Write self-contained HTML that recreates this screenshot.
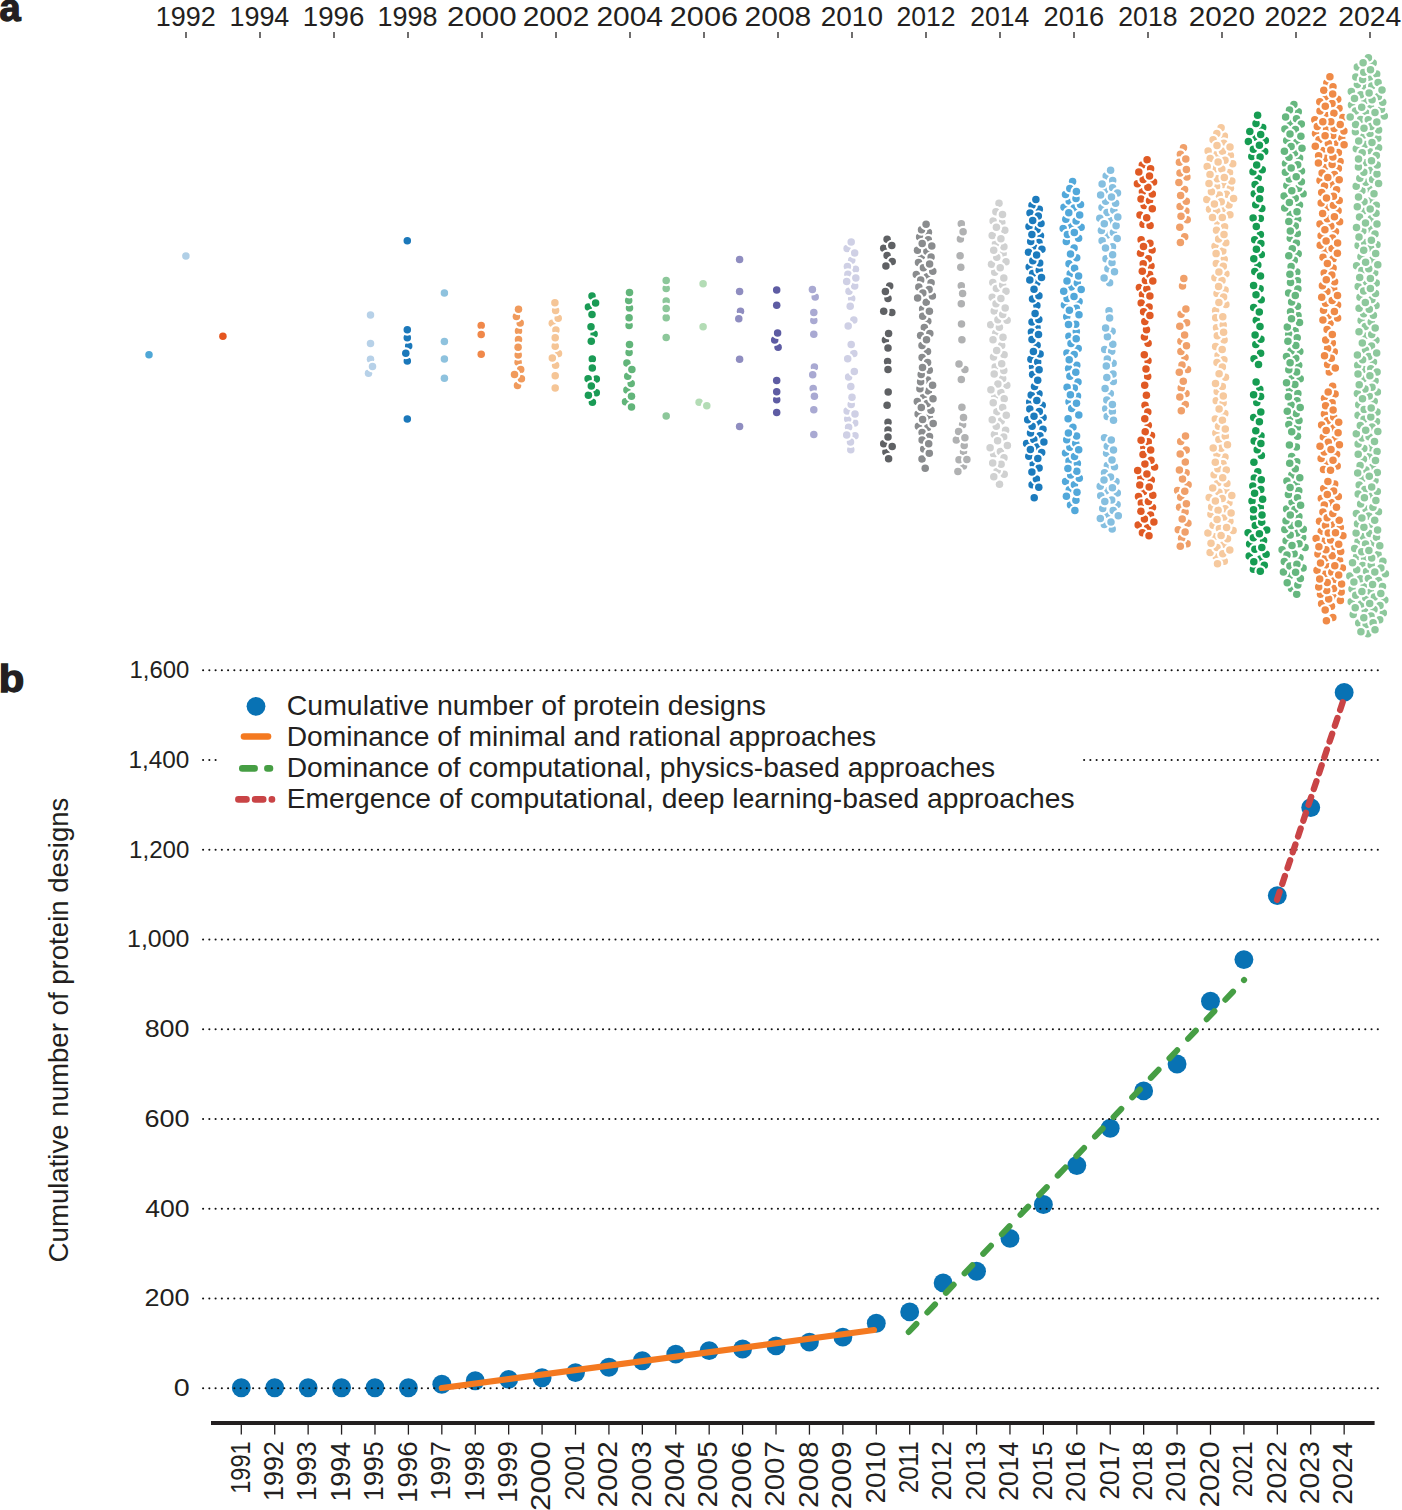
<!DOCTYPE html><html><head><meta charset="utf-8"><style>html,body{margin:0;padding:0;background:#fff}body{width:1402px;height:1510px;overflow:hidden}svg{display:block}text{font-family:"Liberation Sans",sans-serif;fill:#231f20}</style></head><body><svg width="1402" height="1510" viewBox="0 0 1402 1510"><text x="-0.5" y="21" font-size="38" font-weight="bold" style="stroke:#231f20;stroke-width:1.3">a</text><text transform="translate(155.73,26.20) scale(0.9620,1)" font-size="28.00">1992</text><line x1="186.0" y1="32" x2="186.0" y2="38" stroke="#231f20" stroke-width="1.3"/><text transform="translate(229.43,26.20) scale(0.9619,1)" font-size="28.00">1994</text><line x1="260.0" y1="32" x2="260.0" y2="38" stroke="#231f20" stroke-width="1.3"/><text transform="translate(302.83,26.20) scale(0.9874,1)" font-size="28.00">1996</text><line x1="334.0" y1="32" x2="334.0" y2="38" stroke="#231f20" stroke-width="1.3"/><text transform="translate(377.58,26.20) scale(0.9637,1)" font-size="28.00">1998</text><line x1="408.0" y1="32" x2="408.0" y2="38" stroke="#231f20" stroke-width="1.3"/><text transform="translate(446.98,26.20) scale(1.1191,1)" font-size="28.00">2000</text><line x1="482.0" y1="32" x2="482.0" y2="38" stroke="#231f20" stroke-width="1.3"/><text transform="translate(522.70,26.20) scale(1.0702,1)" font-size="28.00">2002</text><line x1="556.0" y1="32" x2="556.0" y2="38" stroke="#231f20" stroke-width="1.3"/><text transform="translate(596.40,26.20) scale(1.0689,1)" font-size="28.00">2004</text><line x1="630.0" y1="32" x2="630.0" y2="38" stroke="#231f20" stroke-width="1.3"/><text transform="translate(669.82,26.20) scale(1.0949,1)" font-size="28.00">2006</text><line x1="704.0" y1="32" x2="704.0" y2="38" stroke="#231f20" stroke-width="1.3"/><text transform="translate(744.55,26.20) scale(1.0714,1)" font-size="28.00">2008</text><line x1="778.0" y1="32" x2="778.0" y2="38" stroke="#231f20" stroke-width="1.3"/><text transform="translate(820.75,26.20) scale(0.9987,1)" font-size="28.00">2010</text><line x1="852.0" y1="32" x2="852.0" y2="38" stroke="#231f20" stroke-width="1.3"/><text transform="translate(896.47,26.20) scale(0.9490,1)" font-size="28.00">2012</text><line x1="926.0" y1="32" x2="926.0" y2="38" stroke="#231f20" stroke-width="1.3"/><text transform="translate(970.17,26.20) scale(0.9491,1)" font-size="28.00">2014</text><line x1="1000.0" y1="32" x2="1000.0" y2="38" stroke="#231f20" stroke-width="1.3"/><text transform="translate(1043.59,26.20) scale(0.9742,1)" font-size="28.00">2016</text><line x1="1074.0" y1="32" x2="1074.0" y2="38" stroke="#231f20" stroke-width="1.3"/><text transform="translate(1118.32,26.20) scale(0.9507,1)" font-size="28.00">2018</text><line x1="1148.0" y1="32" x2="1148.0" y2="38" stroke="#231f20" stroke-width="1.3"/><text transform="translate(1188.71,26.20) scale(1.0639,1)" font-size="28.00">2020</text><line x1="1222.0" y1="32" x2="1222.0" y2="38" stroke="#231f20" stroke-width="1.3"/><text transform="translate(1264.43,26.20) scale(1.0146,1)" font-size="28.00">2022</text><line x1="1296.0" y1="32" x2="1296.0" y2="38" stroke="#231f20" stroke-width="1.3"/><text transform="translate(1338.13,26.20) scale(1.0140,1)" font-size="28.00">2024</text><line x1="1370.0" y1="32" x2="1370.0" y2="38" stroke="#231f20" stroke-width="1.3"/><g stroke="#fff" stroke-width="4.4" paint-order="stroke"><g fill="#4fa7d6"><circle cx="149.0" cy="354.7" r="3.75"/></g><g fill="#b0cfe6"><circle cx="185.9" cy="255.9" r="3.75"/></g><g fill="#e5561f"><circle cx="222.9" cy="336.3" r="3.75"/></g><g fill="#b7d1e8"><circle cx="368.5" cy="373.2" r="3.75"/><circle cx="370.5" cy="359.2" r="3.75"/><circle cx="372.5" cy="366.6" r="3.75"/><circle cx="370.5" cy="315.0" r="3.75"/><circle cx="370.5" cy="343.5" r="3.75"/></g><g fill="#1b78ba"><circle cx="407.3" cy="419.0" r="3.75"/><circle cx="407.3" cy="240.8" r="3.75"/><circle cx="408.7" cy="346.0" r="3.75"/><circle cx="407.3" cy="337.8" r="3.75"/><circle cx="407.3" cy="361.0" r="3.75"/><circle cx="407.3" cy="329.8" r="3.75"/><circle cx="405.8" cy="353.2" r="3.75"/></g><g fill="#8ec2de"><circle cx="444.4" cy="359.0" r="3.75"/><circle cx="444.4" cy="378.3" r="3.75"/><circle cx="444.4" cy="341.5" r="3.75"/><circle cx="444.4" cy="293.0" r="3.75"/></g><g fill="#f0884a"><circle cx="481.2" cy="354.3" r="3.75"/><circle cx="481.2" cy="325.5" r="3.75"/><circle cx="481.2" cy="334.4" r="3.75"/></g><g fill="#f09a5c"><circle cx="518.1" cy="362.3" r="3.75"/><circle cx="518.5" cy="330.9" r="3.75"/><circle cx="520.2" cy="323.1" r="3.75"/><circle cx="520.7" cy="369.6" r="3.75"/><circle cx="518.2" cy="354.9" r="3.75"/><circle cx="518.5" cy="339.5" r="3.75"/><circle cx="517.5" cy="385.5" r="3.75"/><circle cx="516.4" cy="316.6" r="3.75"/><circle cx="521.4" cy="378.8" r="3.75"/><circle cx="518.1" cy="347.3" r="3.75"/><circle cx="518.5" cy="309.2" r="3.75"/><circle cx="514.5" cy="374.4" r="3.75"/></g><g fill="#f5c596"><circle cx="555.6" cy="365.3" r="3.75"/><circle cx="558.5" cy="353.4" r="3.75"/><circle cx="552.3" cy="323.2" r="3.75"/><circle cx="555.2" cy="375.8" r="3.75"/><circle cx="555.9" cy="329.9" r="3.75"/><circle cx="555.2" cy="346.3" r="3.75"/><circle cx="558.2" cy="318.2" r="3.75"/><circle cx="555.6" cy="310.6" r="3.75"/><circle cx="555.2" cy="337.7" r="3.75"/><circle cx="552.3" cy="358.1" r="3.75"/><circle cx="554.9" cy="302.8" r="3.75"/><circle cx="555.2" cy="388.1" r="3.75"/></g><g fill="#1a9b55"><circle cx="596.3" cy="392.7" r="3.75"/><circle cx="588.4" cy="307.1" r="3.75"/><circle cx="596.3" cy="379.1" r="3.75"/><circle cx="592.4" cy="402.2" r="3.75"/><circle cx="592.0" cy="296.1" r="3.75"/><circle cx="594.1" cy="333.9" r="3.75"/><circle cx="592.3" cy="358.9" r="3.75"/><circle cx="591.3" cy="341.3" r="3.75"/><circle cx="588.1" cy="378.8" r="3.75"/><circle cx="591.0" cy="326.8" r="3.75"/><circle cx="592.0" cy="314.6" r="3.75"/><circle cx="588.4" cy="395.2" r="3.75"/><circle cx="592.3" cy="368.0" r="3.75"/><circle cx="591.3" cy="386.0" r="3.75"/><circle cx="595.6" cy="303.1" r="3.75"/></g><g fill="#62b57a"><circle cx="629.1" cy="352.4" r="3.75"/><circle cx="626.9" cy="363.0" r="3.75"/><circle cx="629.1" cy="325.6" r="3.75"/><circle cx="625.5" cy="401.7" r="3.75"/><circle cx="626.9" cy="390.1" r="3.75"/><circle cx="631.5" cy="406.9" r="3.75"/><circle cx="631.2" cy="383.4" r="3.75"/><circle cx="629.5" cy="308.1" r="3.75"/><circle cx="628.7" cy="300.4" r="3.75"/><circle cx="629.5" cy="344.5" r="3.75"/><circle cx="629.1" cy="317.8" r="3.75"/><circle cx="627.7" cy="376.3" r="3.75"/><circle cx="631.5" cy="396.2" r="3.75"/><circle cx="629.5" cy="292.5" r="3.75"/><circle cx="631.9" cy="369.6" r="3.75"/></g><g fill="#8cc79a"><circle cx="666.2" cy="300.9" r="3.75"/><circle cx="666.2" cy="288.5" r="3.75"/><circle cx="666.2" cy="317.8" r="3.75"/><circle cx="666.2" cy="415.9" r="3.75"/><circle cx="666.2" cy="337.5" r="3.75"/><circle cx="666.2" cy="280.4" r="3.75"/><circle cx="666.2" cy="308.5" r="3.75"/></g><g fill="#b3dcb5"><circle cx="703.1" cy="326.7" r="3.75"/><circle cx="699.1" cy="402.3" r="3.75"/><circle cx="703.1" cy="283.7" r="3.75"/><circle cx="706.8" cy="405.8" r="3.75"/></g><g fill="#8f8dc0"><circle cx="739.6" cy="359.3" r="3.75"/><circle cx="739.6" cy="426.6" r="3.75"/><circle cx="740.5" cy="311.3" r="3.75"/><circle cx="738.8" cy="318.7" r="3.75"/><circle cx="739.6" cy="259.4" r="3.75"/><circle cx="739.6" cy="291.6" r="3.75"/></g><g fill="#5e5ca3"><circle cx="776.7" cy="412.6" r="3.75"/><circle cx="776.7" cy="380.4" r="3.75"/><circle cx="776.7" cy="305.3" r="3.75"/><circle cx="778.1" cy="347.3" r="3.75"/><circle cx="774.7" cy="340.1" r="3.75"/><circle cx="776.7" cy="399.8" r="3.75"/><circle cx="776.7" cy="289.9" r="3.75"/><circle cx="776.7" cy="391.8" r="3.75"/><circle cx="777.6" cy="333.0" r="3.75"/></g><g fill="#a9a9d2"><circle cx="813.8" cy="434.6" r="3.75"/><circle cx="813.2" cy="388.6" r="3.75"/><circle cx="813.8" cy="320.5" r="3.75"/><circle cx="815.2" cy="297.1" r="3.75"/><circle cx="814.4" cy="396.3" r="3.75"/><circle cx="814.4" cy="367.0" r="3.75"/><circle cx="812.4" cy="289.6" r="3.75"/><circle cx="812.7" cy="374.7" r="3.75"/><circle cx="813.8" cy="312.5" r="3.75"/><circle cx="813.8" cy="409.8" r="3.75"/><circle cx="813.8" cy="334.2" r="3.75"/></g><g fill="#cfd0e5"><circle cx="848.6" cy="377.0" r="3.75"/><circle cx="851.7" cy="298.6" r="3.75"/><circle cx="854.7" cy="423.1" r="3.75"/><circle cx="847.1" cy="248.6" r="3.75"/><circle cx="847.7" cy="419.0" r="3.75"/><circle cx="855.4" cy="269.3" r="3.75"/><circle cx="847.1" cy="411.0" r="3.75"/><circle cx="851.2" cy="241.9" r="3.75"/><circle cx="853.8" cy="319.9" r="3.75"/><circle cx="851.7" cy="260.2" r="3.75"/><circle cx="847.4" cy="266.6" r="3.75"/><circle cx="854.3" cy="371.4" r="3.75"/><circle cx="849.0" cy="291.3" r="3.75"/><circle cx="854.7" cy="286.1" r="3.75"/><circle cx="854.7" cy="252.9" r="3.75"/><circle cx="855.0" cy="435.7" r="3.75"/><circle cx="850.2" cy="306.2" r="3.75"/><circle cx="851.2" cy="404.5" r="3.75"/><circle cx="848.6" cy="427.3" r="3.75"/><circle cx="853.8" cy="353.4" r="3.75"/><circle cx="852.0" cy="397.2" r="3.75"/><circle cx="847.9" cy="274.2" r="3.75"/><circle cx="850.8" cy="449.7" r="3.75"/><circle cx="855.0" cy="413.9" r="3.75"/><circle cx="850.5" cy="442.1" r="3.75"/><circle cx="847.7" cy="358.8" r="3.75"/><circle cx="850.8" cy="386.6" r="3.75"/><circle cx="855.8" cy="278.0" r="3.75"/><circle cx="848.2" cy="326.0" r="3.75"/><circle cx="851.2" cy="344.6" r="3.75"/><circle cx="846.7" cy="435.0" r="3.75"/><circle cx="846.7" cy="281.5" r="3.75"/></g><g fill="#5f6164"><circle cx="888.0" cy="298.6" r="3.75"/><circle cx="885.9" cy="451.9" r="3.75"/><circle cx="883.7" cy="443.8" r="3.75"/><circle cx="888.0" cy="422.2" r="3.75"/><circle cx="889.7" cy="285.9" r="3.75"/><circle cx="887.6" cy="361.6" r="3.75"/><circle cx="885.4" cy="339.9" r="3.75"/><circle cx="888.0" cy="430.0" r="3.75"/><circle cx="883.7" cy="248.3" r="3.75"/><circle cx="891.8" cy="312.4" r="3.75"/><circle cx="888.0" cy="369.6" r="3.75"/><circle cx="888.6" cy="458.7" r="3.75"/><circle cx="888.0" cy="348.0" r="3.75"/><circle cx="887.1" cy="255.5" r="3.75"/><circle cx="892.2" cy="261.5" r="3.75"/><circle cx="887.1" cy="239.2" r="3.75"/><circle cx="888.6" cy="333.6" r="3.75"/><circle cx="891.8" cy="245.6" r="3.75"/><circle cx="892.2" cy="446.6" r="3.75"/><circle cx="885.9" cy="266.1" r="3.75"/><circle cx="883.7" cy="311.3" r="3.75"/><circle cx="885.4" cy="291.6" r="3.75"/><circle cx="888.0" cy="437.0" r="3.75"/><circle cx="887.1" cy="405.2" r="3.75"/><circle cx="888.2" cy="391.9" r="3.75"/></g><g fill="#8a8c8e"><circle cx="923.7" cy="396.6" r="3.75"/><circle cx="929.4" cy="417.2" r="3.75"/><circle cx="921.5" cy="256.1" r="3.75"/><circle cx="927.1" cy="276.7" r="3.75"/><circle cx="927.5" cy="427.8" r="3.75"/><circle cx="927.5" cy="351.5" r="3.75"/><circle cx="922.0" cy="459.1" r="3.75"/><circle cx="928.4" cy="391.1" r="3.75"/><circle cx="922.6" cy="308.9" r="3.75"/><circle cx="928.4" cy="232.3" r="3.75"/><circle cx="917.5" cy="250.2" r="3.75"/><circle cx="926.2" cy="302.2" r="3.75"/><circle cx="927.8" cy="321.2" r="3.75"/><circle cx="932.8" cy="271.3" r="3.75"/><circle cx="918.4" cy="426.3" r="3.75"/><circle cx="932.4" cy="295.9" r="3.75"/><circle cx="919.9" cy="388.8" r="3.75"/><circle cx="931.0" cy="410.2" r="3.75"/><circle cx="926.9" cy="251.3" r="3.75"/><circle cx="929.3" cy="370.2" r="3.75"/><circle cx="919.6" cy="236.9" r="3.75"/><circle cx="916.3" cy="274.5" r="3.75"/><circle cx="924.3" cy="327.5" r="3.75"/><circle cx="928.3" cy="239.8" r="3.75"/><circle cx="922.1" cy="432.5" r="3.75"/><circle cx="918.1" cy="413.9" r="3.75"/><circle cx="923.7" cy="448.9" r="3.75"/><circle cx="918.5" cy="262.6" r="3.75"/><circle cx="922.2" cy="243.6" r="3.75"/><circle cx="922.0" cy="345.4" r="3.75"/><circle cx="917.3" cy="401.5" r="3.75"/><circle cx="921.5" cy="229.8" r="3.75"/><circle cx="922.7" cy="316.2" r="3.75"/><circle cx="927.2" cy="403.5" r="3.75"/><circle cx="929.5" cy="436.6" r="3.75"/><circle cx="933.0" cy="398.8" r="3.75"/><circle cx="927.6" cy="380.0" r="3.75"/><circle cx="929.3" cy="453.3" r="3.75"/><circle cx="922.1" cy="357.6" r="3.75"/><circle cx="933.2" cy="423.4" r="3.75"/><circle cx="932.6" cy="385.3" r="3.75"/><circle cx="922.1" cy="440.1" r="3.75"/><circle cx="927.6" cy="362.4" r="3.75"/><circle cx="920.6" cy="381.7" r="3.75"/><circle cx="921.3" cy="407.5" r="3.75"/><circle cx="931.1" cy="257.1" r="3.75"/><circle cx="931.1" cy="282.7" r="3.75"/><circle cx="920.6" cy="335.6" r="3.75"/><circle cx="923.4" cy="267.8" r="3.75"/><circle cx="929.4" cy="311.3" r="3.75"/><circle cx="920.7" cy="280.1" r="3.75"/><circle cx="931.8" cy="246.0" r="3.75"/><circle cx="929.8" cy="333.4" r="3.75"/><circle cx="929.1" cy="289.5" r="3.75"/><circle cx="918.8" cy="287.0" r="3.75"/><circle cx="921.2" cy="374.5" r="3.75"/><circle cx="922.6" cy="419.5" r="3.75"/><circle cx="926.5" cy="339.8" r="3.75"/><circle cx="926.1" cy="224.3" r="3.75"/><circle cx="922.5" cy="367.4" r="3.75"/><circle cx="922.8" cy="293.1" r="3.75"/><circle cx="925.2" cy="468.2" r="3.75"/><circle cx="917.6" cy="298.0" r="3.75"/><circle cx="928.7" cy="443.7" r="3.75"/><circle cx="929.6" cy="264.1" r="3.75"/></g><g fill="#b0b1b2"><circle cx="963.5" cy="451.7" r="3.75"/><circle cx="964.2" cy="445.6" r="3.75"/><circle cx="960.4" cy="239.1" r="3.75"/><circle cx="962.6" cy="424.7" r="3.75"/><circle cx="960.8" cy="267.3" r="3.75"/><circle cx="961.3" cy="303.7" r="3.75"/><circle cx="961.9" cy="339.8" r="3.75"/><circle cx="960.1" cy="255.8" r="3.75"/><circle cx="964.9" cy="369.5" r="3.75"/><circle cx="961.3" cy="285.7" r="3.75"/><circle cx="962.6" cy="293.6" r="3.75"/><circle cx="963.5" cy="465.9" r="3.75"/><circle cx="961.3" cy="223.8" r="3.75"/><circle cx="959.0" cy="459.8" r="3.75"/><circle cx="956.3" cy="440.0" r="3.75"/><circle cx="961.5" cy="324.0" r="3.75"/><circle cx="957.9" cy="471.5" r="3.75"/><circle cx="963.5" cy="417.5" r="3.75"/><circle cx="958.6" cy="431.4" r="3.75"/><circle cx="964.9" cy="437.7" r="3.75"/><circle cx="966.9" cy="459.6" r="3.75"/><circle cx="959.0" cy="364.1" r="3.75"/><circle cx="961.3" cy="379.6" r="3.75"/><circle cx="963.1" cy="231.7" r="3.75"/><circle cx="961.9" cy="407.3" r="3.75"/></g><g fill="#d0d1d1"><circle cx="990.7" cy="324.7" r="3.75"/><circle cx="992.8" cy="282.4" r="3.75"/><circle cx="996.4" cy="288.5" r="3.75"/><circle cx="994.4" cy="434.4" r="3.75"/><circle cx="1001.2" cy="421.0" r="3.75"/><circle cx="994.7" cy="395.9" r="3.75"/><circle cx="996.3" cy="426.2" r="3.75"/><circle cx="1001.7" cy="345.5" r="3.75"/><circle cx="994.2" cy="311.1" r="3.75"/><circle cx="1006.8" cy="385.3" r="3.75"/><circle cx="1003.1" cy="253.8" r="3.75"/><circle cx="1000.9" cy="392.4" r="3.75"/><circle cx="996.9" cy="411.7" r="3.75"/><circle cx="995.7" cy="333.3" r="3.75"/><circle cx="993.6" cy="453.9" r="3.75"/><circle cx="1004.1" cy="354.7" r="3.75"/><circle cx="1001.8" cy="222.6" r="3.75"/><circle cx="992.2" cy="297.3" r="3.75"/><circle cx="1003.9" cy="246.8" r="3.75"/><circle cx="995.5" cy="243.4" r="3.75"/><circle cx="993.5" cy="356.9" r="3.75"/><circle cx="992.2" cy="235.5" r="3.75"/><circle cx="1003.0" cy="337.3" r="3.75"/><circle cx="999.4" cy="327.2" r="3.75"/><circle cx="997.9" cy="319.8" r="3.75"/><circle cx="1005.6" cy="430.2" r="3.75"/><circle cx="1004.8" cy="230.2" r="3.75"/><circle cx="999.0" cy="203.2" r="3.75"/><circle cx="1002.7" cy="378.6" r="3.75"/><circle cx="993.1" cy="221.0" r="3.75"/><circle cx="1002.6" cy="285.0" r="3.75"/><circle cx="993.0" cy="339.8" r="3.75"/><circle cx="994.7" cy="272.2" r="3.75"/><circle cx="1004.2" cy="474.2" r="3.75"/><circle cx="1003.7" cy="437.1" r="3.75"/><circle cx="1000.4" cy="451.6" r="3.75"/><circle cx="1003.8" cy="278.0" r="3.75"/><circle cx="1004.0" cy="457.8" r="3.75"/><circle cx="1004.2" cy="398.8" r="3.75"/><circle cx="1007.4" cy="445.5" r="3.75"/><circle cx="996.0" cy="303.7" r="3.75"/><circle cx="997.2" cy="470.5" r="3.75"/><circle cx="1001.1" cy="464.2" r="3.75"/><circle cx="997.9" cy="383.9" r="3.75"/><circle cx="1002.7" cy="407.6" r="3.75"/><circle cx="990.9" cy="389.8" r="3.75"/><circle cx="1006.0" cy="261.7" r="3.75"/><circle cx="999.5" cy="484.2" r="3.75"/><circle cx="991.5" cy="264.3" r="3.75"/><circle cx="997.6" cy="440.8" r="3.75"/><circle cx="996.4" cy="227.3" r="3.75"/><circle cx="995.9" cy="211.7" r="3.75"/><circle cx="1000.2" cy="267.7" r="3.75"/><circle cx="996.8" cy="257.3" r="3.75"/><circle cx="1007.1" cy="320.2" r="3.75"/><circle cx="993.7" cy="250.2" r="3.75"/><circle cx="1002.7" cy="314.6" r="3.75"/><circle cx="996.7" cy="350.6" r="3.75"/><circle cx="995.2" cy="366.9" r="3.75"/><circle cx="994.2" cy="373.9" r="3.75"/><circle cx="992.7" cy="463.0" r="3.75"/><circle cx="1000.9" cy="238.7" r="3.75"/><circle cx="1006.0" cy="291.2" r="3.75"/><circle cx="993.8" cy="476.8" r="3.75"/><circle cx="1002.5" cy="214.5" r="3.75"/><circle cx="990.1" cy="447.8" r="3.75"/><circle cx="992.2" cy="419.8" r="3.75"/><circle cx="1006.3" cy="415.3" r="3.75"/><circle cx="1005.2" cy="307.9" r="3.75"/><circle cx="1003.8" cy="370.6" r="3.75"/><circle cx="1000.9" cy="298.5" r="3.75"/><circle cx="993.2" cy="402.8" r="3.75"/><circle cx="1001.7" cy="363.7" r="3.75"/></g><g fill="#1c7bbd"><circle cx="1040.5" cy="235.7" r="3.75"/><circle cx="1043.1" cy="417.6" r="3.75"/><circle cx="1037.1" cy="345.3" r="3.75"/><circle cx="1042.2" cy="405.2" r="3.75"/><circle cx="1038.5" cy="423.1" r="3.75"/><circle cx="1037.0" cy="327.6" r="3.75"/><circle cx="1043.0" cy="429.3" r="3.75"/><circle cx="1039.9" cy="435.7" r="3.75"/><circle cx="1039.3" cy="209.2" r="3.75"/><circle cx="1037.0" cy="229.6" r="3.75"/><circle cx="1039.0" cy="242.6" r="3.75"/><circle cx="1032.5" cy="366.8" r="3.75"/><circle cx="1026.6" cy="443.5" r="3.75"/><circle cx="1036.8" cy="282.7" r="3.75"/><circle cx="1033.8" cy="439.4" r="3.75"/><circle cx="1032.0" cy="205.3" r="3.75"/><circle cx="1029.2" cy="267.0" r="3.75"/><circle cx="1034.1" cy="247.8" r="3.75"/><circle cx="1032.1" cy="484.7" r="3.75"/><circle cx="1032.0" cy="321.9" r="3.75"/><circle cx="1039.0" cy="393.8" r="3.75"/><circle cx="1030.9" cy="359.3" r="3.75"/><circle cx="1029.7" cy="402.0" r="3.75"/><circle cx="1036.9" cy="305.6" r="3.75"/><circle cx="1031.4" cy="332.0" r="3.75"/><circle cx="1029.8" cy="409.1" r="3.75"/><circle cx="1030.0" cy="213.1" r="3.75"/><circle cx="1032.7" cy="273.4" r="3.75"/><circle cx="1031.2" cy="395.1" r="3.75"/><circle cx="1039.2" cy="270.2" r="3.75"/><circle cx="1037.2" cy="447.1" r="3.75"/><circle cx="1032.6" cy="374.4" r="3.75"/><circle cx="1041.0" cy="223.4" r="3.75"/><circle cx="1033.2" cy="463.9" r="3.75"/><circle cx="1041.5" cy="277.4" r="3.75"/><circle cx="1029.8" cy="280.1" r="3.75"/><circle cx="1034.5" cy="386.6" r="3.75"/><circle cx="1041.7" cy="452.6" r="3.75"/><circle cx="1036.4" cy="479.1" r="3.75"/><circle cx="1038.8" cy="487.2" r="3.75"/><circle cx="1032.5" cy="298.9" r="3.75"/><circle cx="1038.8" cy="319.5" r="3.75"/><circle cx="1028.8" cy="456.3" r="3.75"/><circle cx="1038.9" cy="295.8" r="3.75"/><circle cx="1039.3" cy="411.6" r="3.75"/><circle cx="1034.2" cy="497.8" r="3.75"/><circle cx="1028.5" cy="252.2" r="3.75"/><circle cx="1043.9" cy="442.1" r="3.75"/><circle cx="1039.7" cy="262.9" r="3.75"/><circle cx="1030.5" cy="433.1" r="3.75"/><circle cx="1032.0" cy="339.4" r="3.75"/><circle cx="1039.1" cy="468.1" r="3.75"/><circle cx="1029.0" cy="226.6" r="3.75"/><circle cx="1034.0" cy="289.2" r="3.75"/><circle cx="1035.1" cy="313.5" r="3.75"/><circle cx="1038.5" cy="334.5" r="3.75"/><circle cx="1036.8" cy="400.5" r="3.75"/><circle cx="1037.7" cy="361.9" r="3.75"/><circle cx="1037.8" cy="458.5" r="3.75"/><circle cx="1032.1" cy="426.2" r="3.75"/><circle cx="1039.1" cy="369.8" r="3.75"/><circle cx="1040.1" cy="354.1" r="3.75"/><circle cx="1035.9" cy="199.4" r="3.75"/><circle cx="1033.4" cy="351.4" r="3.75"/><circle cx="1041.9" cy="249.2" r="3.75"/><circle cx="1031.9" cy="471.9" r="3.75"/><circle cx="1038.3" cy="216.1" r="3.75"/><circle cx="1037.7" cy="380.3" r="3.75"/><circle cx="1027.7" cy="419.8" r="3.75"/><circle cx="1032.8" cy="260.8" r="3.75"/><circle cx="1034.0" cy="416.3" r="3.75"/><circle cx="1030.4" cy="449.4" r="3.75"/><circle cx="1030.7" cy="241.6" r="3.75"/><circle cx="1036.6" cy="254.9" r="3.75"/><circle cx="1032.7" cy="220.6" r="3.75"/><circle cx="1031.9" cy="234.6" r="3.75"/></g><g fill="#52a8da"><circle cx="1070.6" cy="225.7" r="3.75"/><circle cx="1065.5" cy="453.0" r="3.75"/><circle cx="1069.0" cy="401.8" r="3.75"/><circle cx="1077.5" cy="395.9" r="3.75"/><circle cx="1069.0" cy="263.7" r="3.75"/><circle cx="1064.4" cy="305.1" r="3.75"/><circle cx="1072.9" cy="427.3" r="3.75"/><circle cx="1065.6" cy="481.5" r="3.75"/><circle cx="1072.6" cy="181.6" r="3.75"/><circle cx="1070.2" cy="273.8" r="3.75"/><circle cx="1071.7" cy="408.5" r="3.75"/><circle cx="1064.0" cy="207.3" r="3.75"/><circle cx="1069.9" cy="447.3" r="3.75"/><circle cx="1066.7" cy="439.8" r="3.75"/><circle cx="1069.3" cy="489.7" r="3.75"/><circle cx="1066.9" cy="352.9" r="3.75"/><circle cx="1071.3" cy="286.9" r="3.75"/><circle cx="1078.2" cy="348.6" r="3.75"/><circle cx="1078.6" cy="238.3" r="3.75"/><circle cx="1076.8" cy="365.2" r="3.75"/><circle cx="1074.4" cy="484.7" r="3.75"/><circle cx="1068.6" cy="368.4" r="3.75"/><circle cx="1069.2" cy="201.1" r="3.75"/><circle cx="1070.5" cy="505.0" r="3.75"/><circle cx="1075.9" cy="500.3" r="3.75"/><circle cx="1075.7" cy="443.2" r="3.75"/><circle cx="1068.9" cy="336.3" r="3.75"/><circle cx="1071.0" cy="343.6" r="3.75"/><circle cx="1079.1" cy="301.6" r="3.75"/><circle cx="1063.2" cy="228.6" r="3.75"/><circle cx="1074.2" cy="208.0" r="3.75"/><circle cx="1076.6" cy="436.1" r="3.75"/><circle cx="1066.7" cy="316.8" r="3.75"/><circle cx="1065.5" cy="194.5" r="3.75"/><circle cx="1078.0" cy="382.0" r="3.75"/><circle cx="1081.1" cy="227.3" r="3.75"/><circle cx="1076.7" cy="257.8" r="3.75"/><circle cx="1069.9" cy="376.3" r="3.75"/><circle cx="1069.0" cy="461.1" r="3.75"/><circle cx="1074.2" cy="354.5" r="3.75"/><circle cx="1074.3" cy="388.1" r="3.75"/><circle cx="1077.0" cy="492.2" r="3.75"/><circle cx="1067.1" cy="298.6" r="3.75"/><circle cx="1065.8" cy="219.2" r="3.75"/><circle cx="1080.5" cy="204.5" r="3.75"/><circle cx="1077.3" cy="282.9" r="3.75"/><circle cx="1079.3" cy="478.3" r="3.75"/><circle cx="1076.0" cy="198.5" r="3.75"/><circle cx="1074.6" cy="268.2" r="3.75"/><circle cx="1068.4" cy="432.9" r="3.75"/><circle cx="1069.8" cy="188.6" r="3.75"/><circle cx="1074.1" cy="247.9" r="3.75"/><circle cx="1067.0" cy="281.1" r="3.75"/><circle cx="1070.7" cy="474.9" r="3.75"/><circle cx="1076.3" cy="308.2" r="3.75"/><circle cx="1077.4" cy="463.6" r="3.75"/><circle cx="1076.4" cy="191.4" r="3.75"/><circle cx="1076.3" cy="331.6" r="3.75"/><circle cx="1069.2" cy="359.7" r="3.75"/><circle cx="1075.8" cy="372.2" r="3.75"/><circle cx="1067.1" cy="387.2" r="3.75"/><circle cx="1076.8" cy="471.2" r="3.75"/><circle cx="1067.9" cy="468.4" r="3.75"/><circle cx="1063.7" cy="291.2" r="3.75"/><circle cx="1066.4" cy="496.3" r="3.75"/><circle cx="1075.7" cy="324.3" r="3.75"/><circle cx="1074.9" cy="510.6" r="3.75"/><circle cx="1068.1" cy="418.7" r="3.75"/><circle cx="1070.5" cy="254.0" r="3.75"/><circle cx="1081.2" cy="289.6" r="3.75"/><circle cx="1074.5" cy="456.4" r="3.75"/><circle cx="1076.2" cy="338.7" r="3.75"/><circle cx="1078.6" cy="275.9" r="3.75"/><circle cx="1068.5" cy="324.5" r="3.75"/><circle cx="1066.3" cy="241.5" r="3.75"/><circle cx="1067.4" cy="234.4" r="3.75"/><circle cx="1079.0" cy="314.8" r="3.75"/><circle cx="1076.1" cy="221.1" r="3.75"/><circle cx="1076.5" cy="403.2" r="3.75"/><circle cx="1078.8" cy="415.0" r="3.75"/><circle cx="1068.8" cy="212.7" r="3.75"/><circle cx="1074.3" cy="232.5" r="3.75"/><circle cx="1069.4" cy="310.2" r="3.75"/><circle cx="1079.7" cy="215.0" r="3.75"/><circle cx="1074.0" cy="296.5" r="3.75"/><circle cx="1078.7" cy="449.7" r="3.75"/><circle cx="1070.4" cy="394.7" r="3.75"/></g><g fill="#85bfe0"><circle cx="1110.3" cy="393.6" r="3.75"/><circle cx="1106.0" cy="258.8" r="3.75"/><circle cx="1116.0" cy="481.5" r="3.75"/><circle cx="1107.4" cy="465.6" r="3.75"/><circle cx="1105.7" cy="408.8" r="3.75"/><circle cx="1105.1" cy="388.6" r="3.75"/><circle cx="1114.5" cy="466.8" r="3.75"/><circle cx="1105.8" cy="490.7" r="3.75"/><circle cx="1104.5" cy="437.8" r="3.75"/><circle cx="1106.7" cy="235.3" r="3.75"/><circle cx="1107.0" cy="514.3" r="3.75"/><circle cx="1104.7" cy="349.5" r="3.75"/><circle cx="1106.2" cy="176.1" r="3.75"/><circle cx="1111.7" cy="351.3" r="3.75"/><circle cx="1105.8" cy="190.0" r="3.75"/><circle cx="1113.3" cy="381.4" r="3.75"/><circle cx="1112.1" cy="331.3" r="3.75"/><circle cx="1110.9" cy="220.8" r="3.75"/><circle cx="1113.4" cy="232.5" r="3.75"/><circle cx="1102.7" cy="508.5" r="3.75"/><circle cx="1100.7" cy="495.7" r="3.75"/><circle cx="1112.8" cy="344.2" r="3.75"/><circle cx="1112.2" cy="529.0" r="3.75"/><circle cx="1102.1" cy="240.8" r="3.75"/><circle cx="1107.9" cy="268.8" r="3.75"/><circle cx="1102.0" cy="207.4" r="3.75"/><circle cx="1113.1" cy="363.2" r="3.75"/><circle cx="1106.6" cy="453.3" r="3.75"/><circle cx="1106.8" cy="399.9" r="3.75"/><circle cx="1107.0" cy="212.5" r="3.75"/><circle cx="1112.7" cy="180.6" r="3.75"/><circle cx="1113.0" cy="374.0" r="3.75"/><circle cx="1117.3" cy="492.9" r="3.75"/><circle cx="1112.0" cy="262.8" r="3.75"/><circle cx="1099.8" cy="218.3" r="3.75"/><circle cx="1102.1" cy="183.9" r="3.75"/><circle cx="1105.7" cy="201.2" r="3.75"/><circle cx="1100.6" cy="195.0" r="3.75"/><circle cx="1112.0" cy="460.0" r="3.75"/><circle cx="1112.6" cy="187.8" r="3.75"/><circle cx="1104.5" cy="472.7" r="3.75"/><circle cx="1117.2" cy="238.6" r="3.75"/><circle cx="1104.3" cy="524.6" r="3.75"/><circle cx="1107.2" cy="416.6" r="3.75"/><circle cx="1110.5" cy="476.9" r="3.75"/><circle cx="1107.3" cy="446.2" r="3.75"/><circle cx="1111.0" cy="521.9" r="3.75"/><circle cx="1117.1" cy="504.6" r="3.75"/><circle cx="1101.4" cy="230.4" r="3.75"/><circle cx="1117.5" cy="193.0" r="3.75"/><circle cx="1107.4" cy="336.7" r="3.75"/><circle cx="1105.6" cy="327.9" r="3.75"/><circle cx="1112.5" cy="246.8" r="3.75"/><circle cx="1109.6" cy="282.7" r="3.75"/><circle cx="1100.3" cy="518.6" r="3.75"/><circle cx="1112.4" cy="411.6" r="3.75"/><circle cx="1109.0" cy="310.8" r="3.75"/><circle cx="1106.8" cy="377.5" r="3.75"/><circle cx="1111.7" cy="499.9" r="3.75"/><circle cx="1104.3" cy="223.8" r="3.75"/><circle cx="1113.2" cy="510.6" r="3.75"/><circle cx="1113.8" cy="210.2" r="3.75"/><circle cx="1113.5" cy="420.2" r="3.75"/><circle cx="1116.1" cy="225.8" r="3.75"/><circle cx="1104.8" cy="501.6" r="3.75"/><circle cx="1109.6" cy="318.0" r="3.75"/><circle cx="1115.6" cy="203.2" r="3.75"/><circle cx="1110.6" cy="170.3" r="3.75"/><circle cx="1104.1" cy="278.1" r="3.75"/><circle cx="1100.2" cy="486.2" r="3.75"/><circle cx="1112.4" cy="404.4" r="3.75"/><circle cx="1114.5" cy="271.7" r="3.75"/><circle cx="1117.8" cy="216.9" r="3.75"/><circle cx="1112.4" cy="487.7" r="3.75"/><circle cx="1113.5" cy="449.9" r="3.75"/><circle cx="1118.3" cy="515.7" r="3.75"/><circle cx="1111.5" cy="196.9" r="3.75"/><circle cx="1112.6" cy="254.8" r="3.75"/><circle cx="1104.0" cy="480.1" r="3.75"/><circle cx="1107.3" cy="358.9" r="3.75"/><circle cx="1106.3" cy="366.0" r="3.75"/><circle cx="1111.3" cy="440.1" r="3.75"/><circle cx="1105.5" cy="248.0" r="3.75"/></g><g fill="#e05a24"><circle cx="1151.0" cy="266.1" r="3.75"/><circle cx="1148.1" cy="343.3" r="3.75"/><circle cx="1143.0" cy="224.2" r="3.75"/><circle cx="1138.2" cy="525.1" r="3.75"/><circle cx="1144.2" cy="205.5" r="3.75"/><circle cx="1145.0" cy="405.3" r="3.75"/><circle cx="1147.7" cy="376.4" r="3.75"/><circle cx="1152.5" cy="507.4" r="3.75"/><circle cx="1147.6" cy="527.8" r="3.75"/><circle cx="1142.4" cy="191.8" r="3.75"/><circle cx="1154.6" cy="467.0" r="3.75"/><circle cx="1152.1" cy="250.1" r="3.75"/><circle cx="1139.4" cy="287.5" r="3.75"/><circle cx="1150.5" cy="515.0" r="3.75"/><circle cx="1141.1" cy="239.7" r="3.75"/><circle cx="1144.4" cy="337.1" r="3.75"/><circle cx="1142.5" cy="294.6" r="3.75"/><circle cx="1143.8" cy="447.5" r="3.75"/><circle cx="1148.0" cy="360.8" r="3.75"/><circle cx="1142.3" cy="165.1" r="3.75"/><circle cx="1140.8" cy="477.9" r="3.75"/><circle cx="1148.3" cy="258.7" r="3.75"/><circle cx="1143.7" cy="491.6" r="3.75"/><circle cx="1141.0" cy="199.1" r="3.75"/><circle cx="1147.1" cy="159.8" r="3.75"/><circle cx="1146.8" cy="288.9" r="3.75"/><circle cx="1144.4" cy="518.9" r="3.75"/><circle cx="1146.5" cy="329.8" r="3.75"/><circle cx="1146.0" cy="369.0" r="3.75"/><circle cx="1149.9" cy="296.1" r="3.75"/><circle cx="1141.2" cy="303.0" r="3.75"/><circle cx="1153.6" cy="181.9" r="3.75"/><circle cx="1137.4" cy="183.7" r="3.75"/><circle cx="1148.3" cy="425.3" r="3.75"/><circle cx="1149.1" cy="307.0" r="3.75"/><circle cx="1151.3" cy="479.9" r="3.75"/><circle cx="1142.4" cy="532.8" r="3.75"/><circle cx="1151.5" cy="435.4" r="3.75"/><circle cx="1145.4" cy="280.4" r="3.75"/><circle cx="1145.2" cy="431.8" r="3.75"/><circle cx="1147.8" cy="411.9" r="3.75"/><circle cx="1140.5" cy="253.2" r="3.75"/><circle cx="1151.0" cy="460.2" r="3.75"/><circle cx="1144.9" cy="464.1" r="3.75"/><circle cx="1143.2" cy="263.8" r="3.75"/><circle cx="1148.3" cy="441.8" r="3.75"/><circle cx="1153.9" cy="522.0" r="3.75"/><circle cx="1146.4" cy="395.3" r="3.75"/><circle cx="1150.1" cy="225.4" r="3.75"/><circle cx="1149.6" cy="274.5" r="3.75"/><circle cx="1149.9" cy="243.3" r="3.75"/><circle cx="1138.5" cy="496.5" r="3.75"/><circle cx="1143.0" cy="454.6" r="3.75"/><circle cx="1139.8" cy="485.0" r="3.75"/><circle cx="1143.5" cy="246.4" r="3.75"/><circle cx="1144.8" cy="321.5" r="3.75"/><circle cx="1143.6" cy="311.7" r="3.75"/><circle cx="1144.3" cy="354.7" r="3.75"/><circle cx="1142.3" cy="271.2" r="3.75"/><circle cx="1149.5" cy="200.7" r="3.75"/><circle cx="1152.3" cy="208.7" r="3.75"/><circle cx="1137.7" cy="470.4" r="3.75"/><circle cx="1144.7" cy="385.2" r="3.75"/><circle cx="1152.3" cy="194.1" r="3.75"/><circle cx="1150.6" cy="168.8" r="3.75"/><circle cx="1150.7" cy="449.9" r="3.75"/><circle cx="1141.3" cy="503.1" r="3.75"/><circle cx="1140.9" cy="511.3" r="3.75"/><circle cx="1147.9" cy="187.2" r="3.75"/><circle cx="1143.2" cy="179.5" r="3.75"/><circle cx="1149.5" cy="175.9" r="3.75"/><circle cx="1148.4" cy="501.5" r="3.75"/><circle cx="1152.8" cy="280.9" r="3.75"/><circle cx="1152.8" cy="495.3" r="3.75"/><circle cx="1149.0" cy="535.8" r="3.75"/><circle cx="1141.1" cy="440.3" r="3.75"/><circle cx="1140.0" cy="214.9" r="3.75"/><circle cx="1149.9" cy="315.4" r="3.75"/><circle cx="1146.9" cy="474.1" r="3.75"/><circle cx="1144.8" cy="418.7" r="3.75"/><circle cx="1138.8" cy="171.9" r="3.75"/><circle cx="1146.7" cy="217.7" r="3.75"/><circle cx="1149.2" cy="487.0" r="3.75"/></g><g fill="#f0a06a"><circle cx="1184.6" cy="189.6" r="3.75"/><circle cx="1183.5" cy="147.7" r="3.75"/><circle cx="1185.9" cy="211.0" r="3.75"/><circle cx="1185.3" cy="462.1" r="3.75"/><circle cx="1184.7" cy="236.8" r="3.75"/><circle cx="1185.0" cy="357.5" r="3.75"/><circle cx="1186.0" cy="393.4" r="3.75"/><circle cx="1188.1" cy="484.8" r="3.75"/><circle cx="1181.2" cy="388.1" r="3.75"/><circle cx="1178.9" cy="182.5" r="3.75"/><circle cx="1180.1" cy="206.6" r="3.75"/><circle cx="1187.9" cy="523.3" r="3.75"/><circle cx="1182.5" cy="286.0" r="3.75"/><circle cx="1186.9" cy="176.9" r="3.75"/><circle cx="1187.5" cy="369.5" r="3.75"/><circle cx="1185.3" cy="404.6" r="3.75"/><circle cx="1180.9" cy="341.2" r="3.75"/><circle cx="1181.3" cy="410.7" r="3.75"/><circle cx="1177.6" cy="490.5" r="3.75"/><circle cx="1184.6" cy="335.0" r="3.75"/><circle cx="1180.4" cy="154.2" r="3.75"/><circle cx="1178.3" cy="529.8" r="3.75"/><circle cx="1187.2" cy="219.8" r="3.75"/><circle cx="1187.1" cy="543.8" r="3.75"/><circle cx="1180.0" cy="172.9" r="3.75"/><circle cx="1183.3" cy="381.2" r="3.75"/><circle cx="1180.9" cy="351.4" r="3.75"/><circle cx="1179.4" cy="162.3" r="3.75"/><circle cx="1186.1" cy="472.7" r="3.75"/><circle cx="1182.5" cy="478.9" r="3.75"/><circle cx="1186.6" cy="322.8" r="3.75"/><circle cx="1181.0" cy="216.3" r="3.75"/><circle cx="1180.4" cy="242.6" r="3.75"/><circle cx="1181.1" cy="314.2" r="3.75"/><circle cx="1179.8" cy="397.0" r="3.75"/><circle cx="1179.8" cy="326.3" r="3.75"/><circle cx="1185.8" cy="159.0" r="3.75"/><circle cx="1180.7" cy="497.2" r="3.75"/><circle cx="1186.4" cy="169.6" r="3.75"/><circle cx="1182.0" cy="364.9" r="3.75"/><circle cx="1179.4" cy="470.1" r="3.75"/><circle cx="1179.6" cy="507.2" r="3.75"/><circle cx="1180.7" cy="441.4" r="3.75"/><circle cx="1186.5" cy="345.8" r="3.75"/><circle cx="1183.8" cy="278.5" r="3.75"/><circle cx="1181.6" cy="538.3" r="3.75"/><circle cx="1185.5" cy="436.0" r="3.75"/><circle cx="1186.2" cy="450.0" r="3.75"/><circle cx="1184.8" cy="491.3" r="3.75"/><circle cx="1185.9" cy="308.9" r="3.75"/><circle cx="1185.1" cy="511.9" r="3.75"/><circle cx="1180.3" cy="546.2" r="3.75"/><circle cx="1180.2" cy="454.1" r="3.75"/><circle cx="1185.1" cy="532.0" r="3.75"/><circle cx="1186.3" cy="201.2" r="3.75"/><circle cx="1179.3" cy="372.3" r="3.75"/><circle cx="1179.8" cy="227.2" r="3.75"/><circle cx="1186.4" cy="503.7" r="3.75"/><circle cx="1180.6" cy="195.6" r="3.75"/><circle cx="1182.2" cy="518.9" r="3.75"/></g><g fill="#f6c99e"><circle cx="1214.9" cy="277.8" r="3.75"/><circle cx="1223.4" cy="184.4" r="3.75"/><circle cx="1214.0" cy="536.8" r="3.75"/><circle cx="1224.3" cy="561.3" r="3.75"/><circle cx="1218.0" cy="223.3" r="3.75"/><circle cx="1215.8" cy="432.9" r="3.75"/><circle cx="1229.9" cy="521.3" r="3.75"/><circle cx="1223.6" cy="544.7" r="3.75"/><circle cx="1216.2" cy="154.7" r="3.75"/><circle cx="1215.0" cy="246.2" r="3.75"/><circle cx="1207.9" cy="533.0" r="3.75"/><circle cx="1224.4" cy="136.1" r="3.75"/><circle cx="1229.5" cy="172.5" r="3.75"/><circle cx="1224.2" cy="259.2" r="3.75"/><circle cx="1228.9" cy="502.7" r="3.75"/><circle cx="1218.1" cy="355.3" r="3.75"/><circle cx="1230.4" cy="155.5" r="3.75"/><circle cx="1216.2" cy="400.8" r="3.75"/><circle cx="1216.1" cy="556.4" r="3.75"/><circle cx="1218.9" cy="439.4" r="3.75"/><circle cx="1210.1" cy="552.4" r="3.75"/><circle cx="1221.1" cy="127.8" r="3.75"/><circle cx="1216.3" cy="263.4" r="3.75"/><circle cx="1222.8" cy="251.0" r="3.75"/><circle cx="1216.5" cy="327.7" r="3.75"/><circle cx="1214.6" cy="169.1" r="3.75"/><circle cx="1225.8" cy="242.7" r="3.75"/><circle cx="1225.0" cy="456.9" r="3.75"/><circle cx="1224.1" cy="340.0" r="3.75"/><circle cx="1223.9" cy="359.8" r="3.75"/><circle cx="1230.4" cy="188.2" r="3.75"/><circle cx="1208.1" cy="151.0" r="3.75"/><circle cx="1224.6" cy="226.7" r="3.75"/><circle cx="1223.8" cy="143.2" r="3.75"/><circle cx="1217.0" cy="362.4" r="3.75"/><circle cx="1223.8" cy="209.9" r="3.75"/><circle cx="1216.6" cy="186.6" r="3.75"/><circle cx="1229.0" cy="205.0" r="3.75"/><circle cx="1223.9" cy="517.1" r="3.75"/><circle cx="1223.0" cy="463.8" r="3.75"/><circle cx="1216.8" cy="133.5" r="3.75"/><circle cx="1215.3" cy="419.1" r="3.75"/><circle cx="1215.6" cy="346.6" r="3.75"/><circle cx="1225.9" cy="490.5" r="3.75"/><circle cx="1215.6" cy="310.5" r="3.75"/><circle cx="1226.4" cy="194.2" r="3.75"/><circle cx="1216.5" cy="230.2" r="3.75"/><circle cx="1217.2" cy="178.8" r="3.75"/><circle cx="1217.2" cy="391.4" r="3.75"/><circle cx="1232.7" cy="163.8" r="3.75"/><circle cx="1217.0" cy="547.6" r="3.75"/><circle cx="1226.9" cy="483.5" r="3.75"/><circle cx="1227.5" cy="538.7" r="3.75"/><circle cx="1218.6" cy="239.1" r="3.75"/><circle cx="1219.2" cy="194.9" r="3.75"/><circle cx="1209.5" cy="209.3" r="3.75"/><circle cx="1231.8" cy="495.6" r="3.75"/><circle cx="1217.7" cy="482.9" r="3.75"/><circle cx="1231.8" cy="180.9" r="3.75"/><circle cx="1216.9" cy="454.0" r="3.75"/><circle cx="1222.5" cy="151.2" r="3.75"/><circle cx="1218.9" cy="492.2" r="3.75"/><circle cx="1221.2" cy="201.8" r="3.75"/><circle cx="1223.1" cy="403.1" r="3.75"/><circle cx="1222.8" cy="553.8" r="3.75"/><circle cx="1218.5" cy="426.3" r="3.75"/><circle cx="1214.1" cy="474.8" r="3.75"/><circle cx="1222.2" cy="498.6" r="3.75"/><circle cx="1225.0" cy="160.3" r="3.75"/><circle cx="1229.8" cy="549.9" r="3.75"/><circle cx="1213.0" cy="525.3" r="3.75"/><circle cx="1210.9" cy="514.2" r="3.75"/><circle cx="1222.4" cy="367.1" r="3.75"/><circle cx="1216.1" cy="253.6" r="3.75"/><circle cx="1225.9" cy="273.8" r="3.75"/><circle cx="1221.8" cy="168.9" r="3.75"/><circle cx="1233.1" cy="530.6" r="3.75"/><circle cx="1216.7" cy="211.2" r="3.75"/><circle cx="1222.2" cy="349.5" r="3.75"/><circle cx="1224.8" cy="413.5" r="3.75"/><circle cx="1225.3" cy="436.2" r="3.75"/><circle cx="1225.1" cy="508.7" r="3.75"/><circle cx="1223.2" cy="325.1" r="3.75"/><circle cx="1217.9" cy="468.8" r="3.75"/><circle cx="1211.0" cy="543.2" r="3.75"/><circle cx="1215.7" cy="317.7" r="3.75"/><circle cx="1206.8" cy="199.6" r="3.75"/><circle cx="1225.1" cy="290.1" r="3.75"/><circle cx="1222.3" cy="386.4" r="3.75"/><circle cx="1215.3" cy="462.2" r="3.75"/><circle cx="1222.8" cy="316.8" r="3.75"/><circle cx="1212.5" cy="217.4" r="3.75"/><circle cx="1233.6" cy="198.4" r="3.75"/><circle cx="1217.0" cy="293.6" r="3.75"/><circle cx="1229.9" cy="214.7" r="3.75"/><circle cx="1217.3" cy="335.8" r="3.75"/><circle cx="1223.3" cy="396.0" r="3.75"/><circle cx="1213.1" cy="139.7" r="3.75"/><circle cx="1219.4" cy="528.6" r="3.75"/><circle cx="1221.2" cy="448.2" r="3.75"/><circle cx="1214.4" cy="204.1" r="3.75"/><circle cx="1225.5" cy="377.2" r="3.75"/><circle cx="1210.2" cy="158.5" r="3.75"/><circle cx="1222.4" cy="420.2" r="3.75"/><circle cx="1211.6" cy="507.1" r="3.75"/><circle cx="1207.2" cy="166.6" r="3.75"/><circle cx="1211.4" cy="191.7" r="3.75"/><circle cx="1217.5" cy="563.8" r="3.75"/><circle cx="1221.1" cy="535.5" r="3.75"/><circle cx="1230.0" cy="146.9" r="3.75"/><circle cx="1222.0" cy="280.4" r="3.75"/><circle cx="1217.0" cy="145.6" r="3.75"/><circle cx="1226.3" cy="470.1" r="3.75"/><circle cx="1226.6" cy="527.6" r="3.75"/><circle cx="1213.2" cy="447.9" r="3.75"/><circle cx="1223.6" cy="332.2" r="3.75"/><circle cx="1215.5" cy="383.5" r="3.75"/><circle cx="1209.2" cy="497.4" r="3.75"/><circle cx="1225.9" cy="304.4" r="3.75"/><circle cx="1224.3" cy="177.4" r="3.75"/><circle cx="1219.1" cy="409.1" r="3.75"/><circle cx="1225.3" cy="429.1" r="3.75"/><circle cx="1218.1" cy="162.1" r="3.75"/><circle cx="1218.6" cy="286.6" r="3.75"/><circle cx="1223.6" cy="297.1" r="3.75"/><circle cx="1210.0" cy="174.6" r="3.75"/><circle cx="1219.1" cy="373.8" r="3.75"/><circle cx="1223.3" cy="266.3" r="3.75"/><circle cx="1222.7" cy="477.7" r="3.75"/><circle cx="1218.9" cy="271.9" r="3.75"/><circle cx="1218.9" cy="302.5" r="3.75"/><circle cx="1218.1" cy="510.2" r="3.75"/><circle cx="1209.0" cy="183.6" r="3.75"/><circle cx="1222.3" cy="217.6" r="3.75"/><circle cx="1212.7" cy="487.9" r="3.75"/><circle cx="1227.5" cy="444.8" r="3.75"/><circle cx="1217.1" cy="519.4" r="3.75"/><circle cx="1215.4" cy="501.0" r="3.75"/><circle cx="1231.1" cy="513.1" r="3.75"/><circle cx="1224.0" cy="234.4" r="3.75"/></g><g fill="#169c52"><circle cx="1257.8" cy="471.8" r="3.75"/><circle cx="1257.8" cy="265.0" r="3.75"/><circle cx="1253.9" cy="462.2" r="3.75"/><circle cx="1260.3" cy="218.6" r="3.75"/><circle cx="1251.8" cy="156.4" r="3.75"/><circle cx="1260.5" cy="559.1" r="3.75"/><circle cx="1261.4" cy="455.5" r="3.75"/><circle cx="1260.1" cy="288.7" r="3.75"/><circle cx="1259.8" cy="389.3" r="3.75"/><circle cx="1253.7" cy="517.4" r="3.75"/><circle cx="1254.8" cy="271.6" r="3.75"/><circle cx="1255.3" cy="525.6" r="3.75"/><circle cx="1256.8" cy="402.6" r="3.75"/><circle cx="1260.3" cy="507.5" r="3.75"/><circle cx="1252.0" cy="500.9" r="3.75"/><circle cx="1249.2" cy="556.1" r="3.75"/><circle cx="1254.3" cy="193.8" r="3.75"/><circle cx="1260.6" cy="353.3" r="3.75"/><circle cx="1261.2" cy="299.7" r="3.75"/><circle cx="1249.6" cy="543.9" r="3.75"/><circle cx="1261.7" cy="522.2" r="3.75"/><circle cx="1266.1" cy="554.2" r="3.75"/><circle cx="1260.4" cy="234.4" r="3.75"/><circle cx="1266.7" cy="530.1" r="3.75"/><circle cx="1261.8" cy="208.5" r="3.75"/><circle cx="1253.7" cy="307.5" r="3.75"/><circle cx="1255.8" cy="344.4" r="3.75"/><circle cx="1254.1" cy="137.3" r="3.75"/><circle cx="1254.0" cy="358.8" r="3.75"/><circle cx="1262.7" cy="127.4" r="3.75"/><circle cx="1261.0" cy="435.8" r="3.75"/><circle cx="1249.8" cy="131.5" r="3.75"/><circle cx="1258.2" cy="178.1" r="3.75"/><circle cx="1257.2" cy="449.7" r="3.75"/><circle cx="1254.7" cy="239.8" r="3.75"/><circle cx="1264.3" cy="565.3" r="3.75"/><circle cx="1253.7" cy="417.5" r="3.75"/><circle cx="1264.7" cy="151.4" r="3.75"/><circle cx="1260.1" cy="157.0" r="3.75"/><circle cx="1258.5" cy="364.5" r="3.75"/><circle cx="1256.1" cy="381.9" r="3.75"/><circle cx="1256.0" cy="123.6" r="3.75"/><circle cx="1257.6" cy="115.3" r="3.75"/><circle cx="1255.1" cy="184.6" r="3.75"/><circle cx="1263.6" cy="540.5" r="3.75"/><circle cx="1260.4" cy="189.5" r="3.75"/><circle cx="1260.6" cy="396.4" r="3.75"/><circle cx="1260.8" cy="411.9" r="3.75"/><circle cx="1254.3" cy="478.1" r="3.75"/><circle cx="1253.4" cy="569.2" r="3.75"/><circle cx="1256.3" cy="320.2" r="3.75"/><circle cx="1255.8" cy="430.8" r="3.75"/><circle cx="1261.3" cy="254.5" r="3.75"/><circle cx="1260.9" cy="243.6" r="3.75"/><circle cx="1256.4" cy="249.2" r="3.75"/><circle cx="1253.0" cy="171.7" r="3.75"/><circle cx="1252.8" cy="486.1" r="3.75"/><circle cx="1248.4" cy="141.6" r="3.75"/><circle cx="1260.9" cy="339.3" r="3.75"/><circle cx="1261.3" cy="479.8" r="3.75"/><circle cx="1260.3" cy="571.2" r="3.75"/><circle cx="1253.1" cy="217.9" r="3.75"/><circle cx="1260.0" cy="326.4" r="3.75"/><circle cx="1255.1" cy="335.0" r="3.75"/><circle cx="1253.8" cy="561.7" r="3.75"/><circle cx="1254.9" cy="549.2" r="3.75"/><circle cx="1256.3" cy="226.5" r="3.75"/><circle cx="1262.2" cy="169.7" r="3.75"/><circle cx="1254.2" cy="440.9" r="3.75"/><circle cx="1260.8" cy="489.6" r="3.75"/><circle cx="1262.0" cy="515.0" r="3.75"/><circle cx="1248.1" cy="532.8" r="3.75"/><circle cx="1262.6" cy="499.3" r="3.75"/><circle cx="1256.7" cy="165.0" r="3.75"/><circle cx="1265.3" cy="140.4" r="3.75"/><circle cx="1255.7" cy="204.8" r="3.75"/><circle cx="1259.6" cy="198.7" r="3.75"/><circle cx="1253.4" cy="149.3" r="3.75"/><circle cx="1261.8" cy="547.5" r="3.75"/><circle cx="1256.0" cy="294.7" r="3.75"/><circle cx="1260.5" cy="276.1" r="3.75"/><circle cx="1259.3" cy="312.0" r="3.75"/><circle cx="1259.4" cy="145.2" r="3.75"/><circle cx="1253.5" cy="509.7" r="3.75"/><circle cx="1260.9" cy="443.5" r="3.75"/><circle cx="1259.4" cy="421.8" r="3.75"/><circle cx="1260.7" cy="134.4" r="3.75"/><circle cx="1253.4" cy="537.7" r="3.75"/><circle cx="1253.8" cy="258.8" r="3.75"/><circle cx="1253.6" cy="285.6" r="3.75"/><circle cx="1254.6" cy="493.3" r="3.75"/><circle cx="1259.4" cy="533.7" r="3.75"/><circle cx="1253.6" cy="394.7" r="3.75"/></g><g fill="#66b77f"><circle cx="1298.7" cy="365.3" r="3.75"/><circle cx="1300.0" cy="557.8" r="3.75"/><circle cx="1290.4" cy="417.6" r="3.75"/><circle cx="1288.8" cy="424.6" r="3.75"/><circle cx="1298.2" cy="253.8" r="3.75"/><circle cx="1289.4" cy="575.9" r="3.75"/><circle cx="1290.3" cy="238.2" r="3.75"/><circle cx="1297.7" cy="219.3" r="3.75"/><circle cx="1305.1" cy="547.5" r="3.75"/><circle cx="1298.0" cy="315.6" r="3.75"/><circle cx="1297.5" cy="306.2" r="3.75"/><circle cx="1299.8" cy="351.6" r="3.75"/><circle cx="1286.1" cy="540.8" r="3.75"/><circle cx="1289.5" cy="389.3" r="3.75"/><circle cx="1295.1" cy="330.8" r="3.75"/><circle cx="1297.9" cy="393.6" r="3.75"/><circle cx="1290.3" cy="122.4" r="3.75"/><circle cx="1285.5" cy="163.5" r="3.75"/><circle cx="1299.6" cy="158.0" r="3.75"/><circle cx="1296.4" cy="483.9" r="3.75"/><circle cx="1303.1" cy="193.7" r="3.75"/><circle cx="1298.3" cy="111.8" r="3.75"/><circle cx="1288.7" cy="334.2" r="3.75"/><circle cx="1292.2" cy="377.8" r="3.75"/><circle cx="1283.4" cy="572.0" r="3.75"/><circle cx="1301.5" cy="170.9" r="3.75"/><circle cx="1296.4" cy="243.0" r="3.75"/><circle cx="1291.8" cy="474.9" r="3.75"/><circle cx="1291.7" cy="456.4" r="3.75"/><circle cx="1297.3" cy="233.6" r="3.75"/><circle cx="1284.9" cy="128.9" r="3.75"/><circle cx="1290.3" cy="214.5" r="3.75"/><circle cx="1298.5" cy="188.2" r="3.75"/><circle cx="1296.8" cy="272.0" r="3.75"/><circle cx="1294.1" cy="553.7" r="3.75"/><circle cx="1301.4" cy="181.7" r="3.75"/><circle cx="1299.5" cy="322.6" r="3.75"/><circle cx="1284.1" cy="195.9" r="3.75"/><circle cx="1286.6" cy="509.0" r="3.75"/><circle cx="1292.1" cy="502.3" r="3.75"/><circle cx="1297.4" cy="427.4" r="3.75"/><circle cx="1295.3" cy="226.0" r="3.75"/><circle cx="1297.0" cy="400.7" r="3.75"/><circle cx="1287.3" cy="326.9" r="3.75"/><circle cx="1298.9" cy="516.6" r="3.75"/><circle cx="1296.8" cy="461.7" r="3.75"/><circle cx="1294.3" cy="260.2" r="3.75"/><circle cx="1296.4" cy="446.9" r="3.75"/><circle cx="1300.2" cy="378.7" r="3.75"/><circle cx="1291.1" cy="404.9" r="3.75"/><circle cx="1296.6" cy="372.1" r="3.75"/><circle cx="1302.7" cy="537.5" r="3.75"/><circle cx="1288.4" cy="396.7" r="3.75"/><circle cx="1288.4" cy="494.4" r="3.75"/><circle cx="1288.8" cy="369.8" r="3.75"/><circle cx="1286.8" cy="185.6" r="3.75"/><circle cx="1298.8" cy="490.7" r="3.75"/><circle cx="1288.8" cy="221.5" r="3.75"/><circle cx="1292.3" cy="248.8" r="3.75"/><circle cx="1299.8" cy="477.7" r="3.75"/><circle cx="1282.1" cy="549.7" r="3.75"/><circle cx="1299.0" cy="543.8" r="3.75"/><circle cx="1289.4" cy="178.9" r="3.75"/><circle cx="1297.2" cy="337.8" r="3.75"/><circle cx="1290.5" cy="311.8" r="3.75"/><circle cx="1287.0" cy="554.9" r="3.75"/><circle cx="1284.3" cy="561.5" r="3.75"/><circle cx="1296.2" cy="176.7" r="3.75"/><circle cx="1289.4" cy="445.1" r="3.75"/><circle cx="1297.7" cy="164.8" r="3.75"/><circle cx="1299.0" cy="420.5" r="3.75"/><circle cx="1299.5" cy="205.1" r="3.75"/><circle cx="1294.6" cy="152.8" r="3.75"/><circle cx="1295.7" cy="358.3" r="3.75"/><circle cx="1292.0" cy="545.4" r="3.75"/><circle cx="1297.1" cy="533.0" r="3.75"/><circle cx="1297.5" cy="280.7" r="3.75"/><circle cx="1296.8" cy="142.2" r="3.75"/><circle cx="1285.4" cy="172.3" r="3.75"/><circle cx="1291.5" cy="588.4" r="3.75"/><circle cx="1286.9" cy="481.0" r="3.75"/><circle cx="1286.7" cy="140.4" r="3.75"/><circle cx="1290.2" cy="534.9" r="3.75"/><circle cx="1297.9" cy="289.0" r="3.75"/><circle cx="1291.0" cy="350.9" r="3.75"/><circle cx="1297.5" cy="436.2" r="3.75"/><circle cx="1297.5" cy="497.7" r="3.75"/><circle cx="1296.2" cy="413.5" r="3.75"/><circle cx="1289.9" cy="565.9" r="3.75"/><circle cx="1289.0" cy="157.3" r="3.75"/><circle cx="1291.7" cy="431.8" r="3.75"/><circle cx="1293.9" cy="104.5" r="3.75"/><circle cx="1295.2" cy="198.2" r="3.75"/><circle cx="1288.6" cy="293.0" r="3.75"/><circle cx="1290.3" cy="231.1" r="3.75"/><circle cx="1295.3" cy="468.7" r="3.75"/><circle cx="1295.8" cy="345.6" r="3.75"/><circle cx="1296.5" cy="118.8" r="3.75"/><circle cx="1284.7" cy="207.9" r="3.75"/><circle cx="1291.6" cy="302.1" r="3.75"/><circle cx="1303.1" cy="567.9" r="3.75"/><circle cx="1291.1" cy="266.6" r="3.75"/><circle cx="1286.5" cy="356.5" r="3.75"/><circle cx="1291.1" cy="146.6" r="3.75"/><circle cx="1296.7" cy="594.2" r="3.75"/><circle cx="1302.0" cy="148.2" r="3.75"/><circle cx="1287.3" cy="411.2" r="3.75"/><circle cx="1284.8" cy="529.5" r="3.75"/><circle cx="1291.4" cy="525.5" r="3.75"/><circle cx="1291.5" cy="318.8" r="3.75"/><circle cx="1300.2" cy="407.5" r="3.75"/><circle cx="1291.8" cy="190.8" r="3.75"/><circle cx="1301.3" cy="124.1" r="3.75"/><circle cx="1289.5" cy="110.1" r="3.75"/><circle cx="1291.2" cy="167.9" r="3.75"/><circle cx="1295.3" cy="295.6" r="3.75"/><circle cx="1289.4" cy="202.4" r="3.75"/><circle cx="1290.5" cy="282.4" r="3.75"/><circle cx="1303.3" cy="529.3" r="3.75"/><circle cx="1295.4" cy="129.4" r="3.75"/><circle cx="1289.9" cy="274.3" r="3.75"/><circle cx="1297.0" cy="211.8" r="3.75"/><circle cx="1288.8" cy="255.7" r="3.75"/><circle cx="1297.8" cy="585.0" r="3.75"/><circle cx="1294.9" cy="509.6" r="3.75"/><circle cx="1289.7" cy="463.2" r="3.75"/><circle cx="1286.0" cy="520.8" r="3.75"/><circle cx="1300.9" cy="136.3" r="3.75"/><circle cx="1287.9" cy="341.3" r="3.75"/><circle cx="1290.0" cy="134.0" r="3.75"/><circle cx="1298.4" cy="523.7" r="3.75"/><circle cx="1300.4" cy="578.4" r="3.75"/><circle cx="1300.6" cy="505.3" r="3.75"/><circle cx="1285.6" cy="117.0" r="3.75"/><circle cx="1294.9" cy="384.6" r="3.75"/><circle cx="1290.1" cy="487.4" r="3.75"/><circle cx="1296.9" cy="564.2" r="3.75"/><circle cx="1284.4" cy="151.2" r="3.75"/><circle cx="1286.5" cy="382.7" r="3.75"/><circle cx="1287.2" cy="582.7" r="3.75"/><circle cx="1290.3" cy="515.1" r="3.75"/><circle cx="1290.1" cy="362.7" r="3.75"/><circle cx="1295.6" cy="572.2" r="3.75"/></g><g fill="#ef8a47"><circle cx="1335.5" cy="231.4" r="3.75"/><circle cx="1336.6" cy="454.2" r="3.75"/><circle cx="1320.0" cy="224.1" r="3.75"/><circle cx="1321.1" cy="235.8" r="3.75"/><circle cx="1325.2" cy="166.6" r="3.75"/><circle cx="1339.0" cy="108.2" r="3.75"/><circle cx="1324.4" cy="414.1" r="3.75"/><circle cx="1323.3" cy="436.9" r="3.75"/><circle cx="1331.6" cy="184.6" r="3.75"/><circle cx="1332.5" cy="237.9" r="3.75"/><circle cx="1332.6" cy="386.3" r="3.75"/><circle cx="1337.7" cy="99.2" r="3.75"/><circle cx="1321.3" cy="498.4" r="3.75"/><circle cx="1334.7" cy="484.0" r="3.75"/><circle cx="1337.6" cy="305.1" r="3.75"/><circle cx="1330.9" cy="225.9" r="3.75"/><circle cx="1327.6" cy="566.5" r="3.75"/><circle cx="1336.6" cy="189.7" r="3.75"/><circle cx="1326.5" cy="463.2" r="3.75"/><circle cx="1333.0" cy="548.6" r="3.75"/><circle cx="1326.6" cy="207.6" r="3.75"/><circle cx="1333.0" cy="427.9" r="3.75"/><circle cx="1339.6" cy="560.4" r="3.75"/><circle cx="1323.5" cy="541.3" r="3.75"/><circle cx="1335.1" cy="595.7" r="3.75"/><circle cx="1325.2" cy="250.5" r="3.75"/><circle cx="1319.5" cy="521.2" r="3.75"/><circle cx="1320.0" cy="180.4" r="3.75"/><circle cx="1337.2" cy="466.1" r="3.75"/><circle cx="1336.1" cy="142.3" r="3.75"/><circle cx="1326.2" cy="97.0" r="3.75"/><circle cx="1324.2" cy="272.9" r="3.75"/><circle cx="1340.4" cy="600.5" r="3.75"/><circle cx="1330.1" cy="323.1" r="3.75"/><circle cx="1327.1" cy="115.5" r="3.75"/><circle cx="1323.7" cy="150.6" r="3.75"/><circle cx="1333.7" cy="289.0" r="3.75"/><circle cx="1324.8" cy="574.2" r="3.75"/><circle cx="1338.1" cy="210.7" r="3.75"/><circle cx="1334.8" cy="439.2" r="3.75"/><circle cx="1321.1" cy="458.5" r="3.75"/><circle cx="1327.1" cy="329.6" r="3.75"/><circle cx="1317.9" cy="553.9" r="3.75"/><circle cx="1338.3" cy="496.5" r="3.75"/><circle cx="1333.0" cy="259.0" r="3.75"/><circle cx="1321.3" cy="531.3" r="3.75"/><circle cx="1332.7" cy="524.9" r="3.75"/><circle cx="1326.9" cy="291.5" r="3.75"/><circle cx="1330.6" cy="539.9" r="3.75"/><circle cx="1331.1" cy="502.6" r="3.75"/><circle cx="1325.5" cy="525.5" r="3.75"/><circle cx="1325.8" cy="158.2" r="3.75"/><circle cx="1335.1" cy="394.1" r="3.75"/><circle cx="1326.8" cy="83.1" r="3.75"/><circle cx="1333.1" cy="267.9" r="3.75"/><circle cx="1315.5" cy="133.4" r="3.75"/><circle cx="1323.7" cy="488.4" r="3.75"/><circle cx="1332.8" cy="617.4" r="3.75"/><circle cx="1334.3" cy="351.7" r="3.75"/><circle cx="1329.3" cy="372.0" r="3.75"/><circle cx="1322.1" cy="173.1" r="3.75"/><circle cx="1340.1" cy="161.5" r="3.75"/><circle cx="1327.4" cy="420.8" r="3.75"/><circle cx="1341.7" cy="137.9" r="3.75"/><circle cx="1324.3" cy="505.0" r="3.75"/><circle cx="1327.6" cy="364.4" r="3.75"/><circle cx="1338.4" cy="152.4" r="3.75"/><circle cx="1320.5" cy="594.3" r="3.75"/><circle cx="1328.4" cy="315.4" r="3.75"/><circle cx="1332.7" cy="135.4" r="3.75"/><circle cx="1342.4" cy="568.0" r="3.75"/><circle cx="1324.5" cy="398.2" r="3.75"/><circle cx="1332.3" cy="343.1" r="3.75"/><circle cx="1337.6" cy="317.9" r="3.75"/><circle cx="1323.8" cy="90.3" r="3.75"/><circle cx="1340.3" cy="527.4" r="3.75"/><circle cx="1324.5" cy="186.0" r="3.75"/><circle cx="1333.6" cy="491.1" r="3.75"/><circle cx="1332.1" cy="248.5" r="3.75"/><circle cx="1321.6" cy="424.9" r="3.75"/><circle cx="1326.4" cy="620.8" r="3.75"/><circle cx="1327.4" cy="218.8" r="3.75"/><circle cx="1323.5" cy="310.2" r="3.75"/><circle cx="1332.0" cy="103.6" r="3.75"/><circle cx="1342.9" cy="535.8" r="3.75"/><circle cx="1338.4" cy="168.5" r="3.75"/><circle cx="1332.1" cy="164.4" r="3.75"/><circle cx="1322.4" cy="285.8" r="3.75"/><circle cx="1320.0" cy="111.1" r="3.75"/><circle cx="1328.3" cy="533.1" r="3.75"/><circle cx="1327.6" cy="348.6" r="3.75"/><circle cx="1339.6" cy="221.7" r="3.75"/><circle cx="1327.3" cy="494.6" r="3.75"/><circle cx="1333.9" cy="113.2" r="3.75"/><circle cx="1325.6" cy="303.3" r="3.75"/><circle cx="1332.1" cy="402.7" r="3.75"/><circle cx="1321.2" cy="202.9" r="3.75"/><circle cx="1325.4" cy="557.9" r="3.75"/><circle cx="1328.2" cy="392.0" r="3.75"/><circle cx="1326.4" cy="128.8" r="3.75"/><circle cx="1341.2" cy="592.1" r="3.75"/><circle cx="1332.2" cy="300.4" r="3.75"/><circle cx="1325.6" cy="405.7" r="3.75"/><circle cx="1339.4" cy="444.7" r="3.75"/><circle cx="1329.9" cy="76.7" r="3.75"/><circle cx="1333.0" cy="460.3" r="3.75"/><circle cx="1322.9" cy="512.0" r="3.75"/><circle cx="1333.0" cy="86.8" r="3.75"/><circle cx="1314.8" cy="119.7" r="3.75"/><circle cx="1334.6" cy="281.7" r="3.75"/><circle cx="1333.7" cy="417.1" r="3.75"/><circle cx="1334.4" cy="174.4" r="3.75"/><circle cx="1324.9" cy="229.7" r="3.75"/><circle cx="1327.2" cy="517.8" r="3.75"/><circle cx="1328.4" cy="143.4" r="3.75"/><circle cx="1328.3" cy="442.2" r="3.75"/><circle cx="1320.2" cy="245.3" r="3.75"/><circle cx="1331.8" cy="572.3" r="3.75"/><circle cx="1334.2" cy="580.8" r="3.75"/><circle cx="1332.2" cy="555.7" r="3.75"/><circle cx="1333.4" cy="205.2" r="3.75"/><circle cx="1334.8" cy="565.7" r="3.75"/><circle cx="1335.3" cy="368.1" r="3.75"/><circle cx="1334.2" cy="128.4" r="3.75"/><circle cx="1339.2" cy="520.2" r="3.75"/><circle cx="1331.3" cy="358.2" r="3.75"/><circle cx="1332.9" cy="157.0" r="3.75"/><circle cx="1321.6" cy="603.7" r="3.75"/><circle cx="1337.6" cy="242.9" r="3.75"/><circle cx="1331.8" cy="275.1" r="3.75"/><circle cx="1324.5" cy="355.7" r="3.75"/><circle cx="1324.3" cy="452.1" r="3.75"/><circle cx="1343.9" cy="131.1" r="3.75"/><circle cx="1323.0" cy="257.3" r="3.75"/><circle cx="1333.6" cy="588.6" r="3.75"/><circle cx="1326.2" cy="430.4" r="3.75"/><circle cx="1322.9" cy="320.1" r="3.75"/><circle cx="1342.9" cy="117.6" r="3.75"/><circle cx="1344.1" cy="144.7" r="3.75"/><circle cx="1326.1" cy="241.1" r="3.75"/><circle cx="1337.4" cy="253.3" r="3.75"/><circle cx="1339.2" cy="200.5" r="3.75"/><circle cx="1317.0" cy="570.3" r="3.75"/><circle cx="1339.2" cy="179.8" r="3.75"/><circle cx="1333.4" cy="196.2" r="3.75"/><circle cx="1325.9" cy="549.7" r="3.75"/><circle cx="1331.5" cy="606.3" r="3.75"/><circle cx="1318.6" cy="155.7" r="3.75"/><circle cx="1320.5" cy="563.1" r="3.75"/><circle cx="1340.2" cy="124.5" r="3.75"/><circle cx="1332.8" cy="513.4" r="3.75"/><circle cx="1319.0" cy="139.7" r="3.75"/><circle cx="1334.4" cy="216.8" r="3.75"/><circle cx="1328.7" cy="599.1" r="3.75"/><circle cx="1326.7" cy="590.6" r="3.75"/><circle cx="1319.8" cy="101.7" r="3.75"/><circle cx="1320.0" cy="446.3" r="3.75"/><circle cx="1338.7" cy="422.2" r="3.75"/><circle cx="1327.9" cy="481.5" r="3.75"/><circle cx="1317.3" cy="126.5" r="3.75"/><circle cx="1330.8" cy="121.8" r="3.75"/><circle cx="1331.0" cy="449.4" r="3.75"/><circle cx="1321.7" cy="297.2" r="3.75"/><circle cx="1327.2" cy="582.6" r="3.75"/><circle cx="1325.2" cy="609.9" r="3.75"/><circle cx="1338.1" cy="432.8" r="3.75"/><circle cx="1318.4" cy="162.9" r="3.75"/><circle cx="1321.7" cy="192.6" r="3.75"/><circle cx="1325.3" cy="106.3" r="3.75"/><circle cx="1330.8" cy="150.1" r="3.75"/><circle cx="1316.1" cy="538.4" r="3.75"/><circle cx="1322.8" cy="121.8" r="3.75"/><circle cx="1334.4" cy="311.5" r="3.75"/><circle cx="1326.5" cy="198.0" r="3.75"/><circle cx="1332.7" cy="94.0" r="3.75"/><circle cx="1318.9" cy="546.8" r="3.75"/><circle cx="1341.6" cy="584.0" r="3.75"/><circle cx="1322.6" cy="213.5" r="3.75"/><circle cx="1327.8" cy="177.4" r="3.75"/><circle cx="1318.7" cy="587.1" r="3.75"/><circle cx="1323.5" cy="469.6" r="3.75"/><circle cx="1330.5" cy="470.3" r="3.75"/><circle cx="1338.7" cy="575.1" r="3.75"/><circle cx="1327.4" cy="263.5" r="3.75"/><circle cx="1340.7" cy="551.6" r="3.75"/><circle cx="1315.3" cy="146.3" r="3.75"/><circle cx="1325.1" cy="135.8" r="3.75"/><circle cx="1338.7" cy="544.2" r="3.75"/><circle cx="1337.5" cy="295.6" r="3.75"/><circle cx="1336.5" cy="507.3" r="3.75"/><circle cx="1335.5" cy="532.7" r="3.75"/><circle cx="1326.3" cy="279.8" r="3.75"/><circle cx="1325.7" cy="340.1" r="3.75"/><circle cx="1333.1" cy="410.0" r="3.75"/><circle cx="1319.7" cy="579.1" r="3.75"/><circle cx="1332.3" cy="334.5" r="3.75"/></g><g fill="#8dc89c"><circle cx="1370.7" cy="170.3" r="3.75"/><circle cx="1362.5" cy="478.6" r="3.75"/><circle cx="1376.5" cy="421.4" r="3.75"/><circle cx="1374.2" cy="401.3" r="3.75"/><circle cx="1375.9" cy="340.2" r="3.75"/><circle cx="1375.0" cy="480.6" r="3.75"/><circle cx="1370.5" cy="106.9" r="3.75"/><circle cx="1373.2" cy="63.1" r="3.75"/><circle cx="1383.3" cy="613.1" r="3.75"/><circle cx="1361.1" cy="320.6" r="3.75"/><circle cx="1356.3" cy="148.7" r="3.75"/><circle cx="1358.1" cy="415.2" r="3.75"/><circle cx="1356.6" cy="556.8" r="3.75"/><circle cx="1351.2" cy="601.7" r="3.75"/><circle cx="1373.5" cy="362.0" r="3.75"/><circle cx="1369.8" cy="456.0" r="3.75"/><circle cx="1364.7" cy="336.1" r="3.75"/><circle cx="1363.6" cy="369.4" r="3.75"/><circle cx="1365.3" cy="610.8" r="3.75"/><circle cx="1358.7" cy="404.8" r="3.75"/><circle cx="1361.3" cy="604.0" r="3.75"/><circle cx="1371.0" cy="526.4" r="3.75"/><circle cx="1372.1" cy="427.1" r="3.75"/><circle cx="1363.3" cy="378.7" r="3.75"/><circle cx="1371.0" cy="495.0" r="3.75"/><circle cx="1374.7" cy="272.8" r="3.75"/><circle cx="1359.2" cy="485.0" r="3.75"/><circle cx="1371.1" cy="200.2" r="3.75"/><circle cx="1379.7" cy="619.7" r="3.75"/><circle cx="1378.1" cy="554.6" r="3.75"/><circle cx="1372.6" cy="543.2" r="3.75"/><circle cx="1365.3" cy="326.4" r="3.75"/><circle cx="1357.7" cy="365.2" r="3.75"/><circle cx="1370.9" cy="447.7" r="3.75"/><circle cx="1378.6" cy="580.5" r="3.75"/><circle cx="1358.0" cy="541.4" r="3.75"/><circle cx="1377.8" cy="138.3" r="3.75"/><circle cx="1369.5" cy="77.5" r="3.75"/><circle cx="1365.7" cy="597.7" r="3.75"/><circle cx="1377.4" cy="391.9" r="3.75"/><circle cx="1369.2" cy="396.1" r="3.75"/><circle cx="1371.2" cy="322.1" r="3.75"/><circle cx="1364.6" cy="162.8" r="3.75"/><circle cx="1376.0" cy="305.6" r="3.75"/><circle cx="1375.1" cy="380.7" r="3.75"/><circle cx="1372.0" cy="387.2" r="3.75"/><circle cx="1363.8" cy="448.5" r="3.75"/><circle cx="1369.7" cy="229.0" r="3.75"/><circle cx="1371.5" cy="346.0" r="3.75"/><circle cx="1352.0" cy="589.0" r="3.75"/><circle cx="1358.1" cy="444.1" r="3.75"/><circle cx="1371.7" cy="334.4" r="3.75"/><circle cx="1363.1" cy="135.4" r="3.75"/><circle cx="1370.2" cy="591.2" r="3.75"/><circle cx="1382.9" cy="561.2" r="3.75"/><circle cx="1363.2" cy="210.9" r="3.75"/><circle cx="1378.6" cy="147.7" r="3.75"/><circle cx="1372.5" cy="467.0" r="3.75"/><circle cx="1365.9" cy="469.9" r="3.75"/><circle cx="1355.4" cy="131.8" r="3.75"/><circle cx="1365.9" cy="508.9" r="3.75"/><circle cx="1376.3" cy="205.2" r="3.75"/><circle cx="1376.7" cy="74.0" r="3.75"/><circle cx="1358.0" cy="373.9" r="3.75"/><circle cx="1365.5" cy="350.0" r="3.75"/><circle cx="1375.0" cy="233.9" r="3.75"/><circle cx="1363.3" cy="536.6" r="3.75"/><circle cx="1356.6" cy="265.7" r="3.75"/><circle cx="1368.4" cy="57.8" r="3.75"/><circle cx="1353.2" cy="614.6" r="3.75"/><circle cx="1364.6" cy="282.8" r="3.75"/><circle cx="1351.5" cy="104.9" r="3.75"/><circle cx="1359.5" cy="217.1" r="3.75"/><circle cx="1368.9" cy="356.4" r="3.75"/><circle cx="1357.3" cy="66.9" r="3.75"/><circle cx="1384.8" cy="600.1" r="3.75"/><circle cx="1371.3" cy="218.8" r="3.75"/><circle cx="1364.7" cy="87.3" r="3.75"/><circle cx="1360.9" cy="256.8" r="3.75"/><circle cx="1358.1" cy="245.6" r="3.75"/><circle cx="1365.0" cy="388.9" r="3.75"/><circle cx="1364.8" cy="100.7" r="3.75"/><circle cx="1358.2" cy="286.4" r="3.75"/><circle cx="1380.0" cy="605.4" r="3.75"/><circle cx="1384.3" cy="116.1" r="3.75"/><circle cx="1363.7" cy="313.8" r="3.75"/><circle cx="1368.8" cy="188.7" r="3.75"/><circle cx="1357.4" cy="84.5" r="3.75"/><circle cx="1377.0" cy="224.1" r="3.75"/><circle cx="1361.9" cy="270.6" r="3.75"/><circle cx="1381.5" cy="109.3" r="3.75"/><circle cx="1377.0" cy="412.1" r="3.75"/><circle cx="1377.3" cy="491.6" r="3.75"/><circle cx="1355.8" cy="77.1" r="3.75"/><circle cx="1366.1" cy="112.9" r="3.75"/><circle cx="1351.3" cy="91.6" r="3.75"/><circle cx="1362.6" cy="79.4" r="3.75"/><circle cx="1364.2" cy="584.8" r="3.75"/><circle cx="1372.4" cy="259.9" r="3.75"/><circle cx="1377.1" cy="451.4" r="3.75"/><circle cx="1369.1" cy="150.5" r="3.75"/><circle cx="1364.0" cy="201.7" r="3.75"/><circle cx="1377.8" cy="431.4" r="3.75"/><circle cx="1376.0" cy="213.3" r="3.75"/><circle cx="1363.8" cy="72.3" r="3.75"/><circle cx="1376.2" cy="282.9" r="3.75"/><circle cx="1357.4" cy="393.6" r="3.75"/><circle cx="1368.8" cy="268.7" r="3.75"/><circle cx="1365.0" cy="144.5" r="3.75"/><circle cx="1370.0" cy="133.5" r="3.75"/><circle cx="1349.8" cy="576.1" r="3.75"/><circle cx="1371.9" cy="299.6" r="3.75"/><circle cx="1361.9" cy="190.7" r="3.75"/><circle cx="1382.7" cy="102.2" r="3.75"/><circle cx="1362.2" cy="152.7" r="3.75"/><circle cx="1370.4" cy="278.6" r="3.75"/><circle cx="1364.2" cy="409.4" r="3.75"/><circle cx="1373.4" cy="315.3" r="3.75"/><circle cx="1355.5" cy="110.9" r="3.75"/><circle cx="1356.2" cy="186.3" r="3.75"/><circle cx="1371.8" cy="86.1" r="3.75"/><circle cx="1364.6" cy="558.6" r="3.75"/><circle cx="1360.7" cy="119.5" r="3.75"/><circle cx="1363.4" cy="459.2" r="3.75"/><circle cx="1364.0" cy="419.3" r="3.75"/><circle cx="1382.5" cy="586.5" r="3.75"/><circle cx="1360.7" cy="94.8" r="3.75"/><circle cx="1357.3" cy="206.8" r="3.75"/><circle cx="1362.6" cy="565.5" r="3.75"/><circle cx="1358.7" cy="622.9" r="3.75"/><circle cx="1378.4" cy="96.4" r="3.75"/><circle cx="1377.3" cy="472.5" r="3.75"/><circle cx="1366.5" cy="571.6" r="3.75"/><circle cx="1359.1" cy="308.3" r="3.75"/><circle cx="1355.7" cy="595.2" r="3.75"/><circle cx="1362.3" cy="342.9" r="3.75"/><circle cx="1362.1" cy="438.1" r="3.75"/><circle cx="1375.5" cy="460.4" r="3.75"/><circle cx="1365.9" cy="182.2" r="3.75"/><circle cx="1370.2" cy="209.1" r="3.75"/><circle cx="1376.3" cy="155.4" r="3.75"/><circle cx="1372.1" cy="99.8" r="3.75"/><circle cx="1360.3" cy="578.7" r="3.75"/><circle cx="1367.8" cy="633.8" r="3.75"/><circle cx="1360.1" cy="465.6" r="3.75"/><circle cx="1369.3" cy="309.3" r="3.75"/><circle cx="1378.6" cy="130.1" r="3.75"/><circle cx="1363.1" cy="62.7" r="3.75"/><circle cx="1372.0" cy="142.6" r="3.75"/><circle cx="1361.7" cy="107.2" r="3.75"/><circle cx="1369.1" cy="93.0" r="3.75"/><circle cx="1366.2" cy="624.6" r="3.75"/><circle cx="1356.7" cy="569.8" r="3.75"/><circle cx="1357.7" cy="472.9" r="3.75"/><circle cx="1368.3" cy="119.8" r="3.75"/><circle cx="1358.7" cy="141.1" r="3.75"/><circle cx="1365.5" cy="544.1" r="3.75"/><circle cx="1364.6" cy="242.6" r="3.75"/><circle cx="1377.0" cy="244.7" r="3.75"/><circle cx="1356.3" cy="433.8" r="3.75"/><circle cx="1368.4" cy="578.5" r="3.75"/><circle cx="1374.0" cy="609.4" r="3.75"/><circle cx="1371.0" cy="126.4" r="3.75"/><circle cx="1354.7" cy="548.4" r="3.75"/><circle cx="1370.8" cy="416.9" r="3.75"/><circle cx="1376.7" cy="353.1" r="3.75"/><circle cx="1377.8" cy="264.7" r="3.75"/><circle cx="1369.8" cy="533.5" r="3.75"/><circle cx="1376.8" cy="122.1" r="3.75"/><circle cx="1360.9" cy="631.7" r="3.75"/><circle cx="1375.2" cy="328.1" r="3.75"/><circle cx="1372.6" cy="179.6" r="3.75"/><circle cx="1359.8" cy="178.3" r="3.75"/><circle cx="1360.3" cy="425.5" r="3.75"/><circle cx="1352.5" cy="562.7" r="3.75"/><circle cx="1361.8" cy="551.8" r="3.75"/><circle cx="1375.0" cy="112.4" r="3.75"/><circle cx="1361.9" cy="591.6" r="3.75"/><circle cx="1360.0" cy="297.2" r="3.75"/><circle cx="1376.5" cy="537.2" r="3.75"/><circle cx="1356.4" cy="513.5" r="3.75"/><circle cx="1362.6" cy="359.8" r="3.75"/><circle cx="1374.0" cy="193.7" r="3.75"/><circle cx="1370.5" cy="69.8" r="3.75"/><circle cx="1363.8" cy="172.3" r="3.75"/><circle cx="1378.1" cy="82.6" r="3.75"/><circle cx="1385.4" cy="573.7" r="3.75"/><circle cx="1377.0" cy="173.9" r="3.75"/><circle cx="1371.0" cy="615.9" r="3.75"/><circle cx="1371.2" cy="565.1" r="3.75"/><circle cx="1362.5" cy="398.7" r="3.75"/><circle cx="1362.8" cy="230.9" r="3.75"/><circle cx="1379.8" cy="545.8" r="3.75"/><circle cx="1365.3" cy="302.5" r="3.75"/><circle cx="1356.1" cy="532.9" r="3.75"/><circle cx="1373.1" cy="622.7" r="3.75"/><circle cx="1370.6" cy="248.1" r="3.75"/><circle cx="1372.6" cy="584.4" r="3.75"/><circle cx="1359.7" cy="277.5" r="3.75"/><circle cx="1359.0" cy="237.0" r="3.75"/><circle cx="1357.5" cy="523.8" r="3.75"/><circle cx="1355.6" cy="124.6" r="3.75"/><circle cx="1378.5" cy="511.7" r="3.75"/><circle cx="1363.8" cy="617.8" r="3.75"/><circle cx="1350.2" cy="116.9" r="3.75"/><circle cx="1380.9" cy="568.1" r="3.75"/><circle cx="1374.4" cy="597.0" r="3.75"/><circle cx="1369.1" cy="436.7" r="3.75"/><circle cx="1363.7" cy="250.2" r="3.75"/><circle cx="1363.9" cy="527.3" r="3.75"/><circle cx="1382.0" cy="90.0" r="3.75"/><circle cx="1363.7" cy="291.0" r="3.75"/><circle cx="1377.2" cy="165.1" r="3.75"/><circle cx="1355.2" cy="607.7" r="3.75"/><circle cx="1364.0" cy="128.2" r="3.75"/><circle cx="1358.2" cy="454.2" r="3.75"/><circle cx="1371.7" cy="558.0" r="3.75"/><circle cx="1364.9" cy="489.4" r="3.75"/><circle cx="1359.0" cy="331.7" r="3.75"/><circle cx="1380.8" cy="593.5" r="3.75"/><circle cx="1368.8" cy="516.0" r="3.75"/><circle cx="1369.3" cy="476.3" r="3.75"/><circle cx="1371.5" cy="160.7" r="3.75"/><circle cx="1374.8" cy="571.9" r="3.75"/><circle cx="1377.6" cy="530.0" r="3.75"/><circle cx="1360.6" cy="504.0" r="3.75"/><circle cx="1354.5" cy="98.4" r="3.75"/><circle cx="1370.8" cy="368.7" r="3.75"/><circle cx="1371.4" cy="240.2" r="3.75"/><circle cx="1371.7" cy="487.0" r="3.75"/><circle cx="1359.2" cy="384.7" r="3.75"/><circle cx="1356.5" cy="227.4" r="3.75"/><circle cx="1358.4" cy="167.1" r="3.75"/><circle cx="1365.7" cy="430.3" r="3.75"/><circle cx="1375.0" cy="629.7" r="3.75"/><circle cx="1377.1" cy="372.1" r="3.75"/><circle cx="1375.5" cy="293.4" r="3.75"/><circle cx="1375.7" cy="253.5" r="3.75"/><circle cx="1357.4" cy="354.9" r="3.75"/><circle cx="1372.9" cy="507.2" r="3.75"/><circle cx="1368.9" cy="550.4" r="3.75"/><circle cx="1374.5" cy="441.5" r="3.75"/><circle cx="1378.6" cy="183.6" r="3.75"/><circle cx="1369.9" cy="375.8" r="3.75"/><circle cx="1358.5" cy="197.1" r="3.75"/><circle cx="1374.7" cy="520.2" r="3.75"/><circle cx="1358.2" cy="494.1" r="3.75"/><circle cx="1361.9" cy="518.1" r="3.75"/><circle cx="1370.4" cy="288.4" r="3.75"/><circle cx="1364.4" cy="497.8" r="3.75"/><circle cx="1353.9" cy="582.1" r="3.75"/><circle cx="1358.5" cy="159.0" r="3.75"/><circle cx="1365.5" cy="222.9" r="3.75"/><circle cx="1371.2" cy="407.9" r="3.75"/><circle cx="1375.9" cy="500.6" r="3.75"/><circle cx="1365.6" cy="262.2" r="3.75"/><circle cx="1369.7" cy="603.6" r="3.75"/></g></g><text transform="translate(-1.2,691.7) scale(1.1,1)" font-size="38" font-weight="bold" style="stroke:#231f20;stroke-width:1.3">b</text><text transform="translate(67.80,1262.38) rotate(-90) scale(1.0116,1)" font-size="27.30">Cumulative number of protein designs</text><line x1="211" y1="1423" x2="1374.6" y2="1423" stroke="#231f20" stroke-width="4.2"/><line x1="241.30" y1="1424" x2="241.30" y2="1434.6" stroke="#231f20" stroke-width="1.3"/><text transform="translate(249.60,1493.87) rotate(-90) scale(0.8435,1)" font-size="28.00">1991</text><line x1="274.72" y1="1424" x2="274.72" y2="1434.6" stroke="#231f20" stroke-width="1.3"/><text transform="translate(283.02,1501.02) rotate(-90) scale(0.9620,1)" font-size="28.00">1992</text><line x1="308.14" y1="1424" x2="308.14" y2="1434.6" stroke="#231f20" stroke-width="1.3"/><text transform="translate(316.44,1501.01) rotate(-90) scale(0.9586,1)" font-size="28.00">1993</text><line x1="341.56" y1="1424" x2="341.56" y2="1434.6" stroke="#231f20" stroke-width="1.3"/><text transform="translate(349.86,1501.62) rotate(-90) scale(0.9619,1)" font-size="28.00">1994</text><line x1="374.98" y1="1424" x2="374.98" y2="1434.6" stroke="#231f20" stroke-width="1.3"/><text transform="translate(383.28,1501.01) rotate(-90) scale(0.9575,1)" font-size="28.00">1995</text><line x1="408.40" y1="1424" x2="408.40" y2="1434.6" stroke="#231f20" stroke-width="1.3"/><text transform="translate(416.70,1502.77) rotate(-90) scale(0.9874,1)" font-size="28.00">1996</text><line x1="441.82" y1="1424" x2="441.82" y2="1434.6" stroke="#231f20" stroke-width="1.3"/><text transform="translate(450.12,1500.24) rotate(-90) scale(0.9493,1)" font-size="28.00">1997</text><line x1="475.24" y1="1424" x2="475.24" y2="1434.6" stroke="#231f20" stroke-width="1.3"/><text transform="translate(483.54,1501.32) rotate(-90) scale(0.9637,1)" font-size="28.00">1998</text><line x1="508.66" y1="1424" x2="508.66" y2="1434.6" stroke="#231f20" stroke-width="1.3"/><text transform="translate(516.96,1502.78) rotate(-90) scale(0.9886,1)" font-size="28.00">1999</text><line x1="542.08" y1="1424" x2="542.08" y2="1434.6" stroke="#231f20" stroke-width="1.3"/><text transform="translate(550.38,1510.97) rotate(-90) scale(1.1191,1)" font-size="28.00">2000</text><line x1="575.50" y1="1424" x2="575.50" y2="1434.6" stroke="#231f20" stroke-width="1.3"/><text transform="translate(583.80,1500.53) rotate(-90) scale(0.9529,1)" font-size="28.00">2001</text><line x1="608.92" y1="1424" x2="608.92" y2="1434.6" stroke="#231f20" stroke-width="1.3"/><text transform="translate(617.22,1507.60) rotate(-90) scale(1.0702,1)" font-size="28.00">2002</text><line x1="642.34" y1="1424" x2="642.34" y2="1434.6" stroke="#231f20" stroke-width="1.3"/><text transform="translate(650.64,1507.59) rotate(-90) scale(1.0664,1)" font-size="28.00">2003</text><line x1="675.76" y1="1424" x2="675.76" y2="1434.6" stroke="#231f20" stroke-width="1.3"/><text transform="translate(684.06,1508.20) rotate(-90) scale(1.0689,1)" font-size="28.00">2004</text><line x1="709.18" y1="1424" x2="709.18" y2="1434.6" stroke="#231f20" stroke-width="1.3"/><text transform="translate(717.48,1507.59) rotate(-90) scale(1.0651,1)" font-size="28.00">2005</text><line x1="742.60" y1="1424" x2="742.60" y2="1434.6" stroke="#231f20" stroke-width="1.3"/><text transform="translate(750.90,1509.33) rotate(-90) scale(1.0949,1)" font-size="28.00">2006</text><line x1="776.02" y1="1424" x2="776.02" y2="1434.6" stroke="#231f20" stroke-width="1.3"/><text transform="translate(784.32,1506.83) rotate(-90) scale(1.0575,1)" font-size="28.00">2007</text><line x1="809.44" y1="1424" x2="809.44" y2="1434.6" stroke="#231f20" stroke-width="1.3"/><text transform="translate(817.74,1507.90) rotate(-90) scale(1.0714,1)" font-size="28.00">2008</text><line x1="842.86" y1="1424" x2="842.86" y2="1434.6" stroke="#231f20" stroke-width="1.3"/><text transform="translate(851.16,1509.33) rotate(-90) scale(1.0962,1)" font-size="28.00">2009</text><line x1="876.28" y1="1424" x2="876.28" y2="1434.6" stroke="#231f20" stroke-width="1.3"/><text transform="translate(884.58,1503.60) rotate(-90) scale(0.9987,1)" font-size="28.00">2010</text><line x1="909.70" y1="1424" x2="909.70" y2="1434.6" stroke="#231f20" stroke-width="1.3"/><text transform="translate(918.00,1493.21) rotate(-90) scale(0.8613,1)" font-size="28.00">2011</text><line x1="943.12" y1="1424" x2="943.12" y2="1434.6" stroke="#231f20" stroke-width="1.3"/><text transform="translate(951.42,1500.23) rotate(-90) scale(0.9490,1)" font-size="28.00">2012</text><line x1="976.54" y1="1424" x2="976.54" y2="1434.6" stroke="#231f20" stroke-width="1.3"/><text transform="translate(984.84,1500.22) rotate(-90) scale(0.9457,1)" font-size="28.00">2013</text><line x1="1009.96" y1="1424" x2="1009.96" y2="1434.6" stroke="#231f20" stroke-width="1.3"/><text transform="translate(1018.26,1500.83) rotate(-90) scale(0.9491,1)" font-size="28.00">2014</text><line x1="1043.38" y1="1424" x2="1043.38" y2="1434.6" stroke="#231f20" stroke-width="1.3"/><text transform="translate(1051.68,1500.22) rotate(-90) scale(0.9446,1)" font-size="28.00">2015</text><line x1="1076.80" y1="1424" x2="1076.80" y2="1434.6" stroke="#231f20" stroke-width="1.3"/><text transform="translate(1085.10,1501.96) rotate(-90) scale(0.9742,1)" font-size="28.00">2016</text><line x1="1110.22" y1="1424" x2="1110.22" y2="1434.6" stroke="#231f20" stroke-width="1.3"/><text transform="translate(1118.52,1499.46) rotate(-90) scale(0.9364,1)" font-size="28.00">2017</text><line x1="1143.64" y1="1424" x2="1143.64" y2="1434.6" stroke="#231f20" stroke-width="1.3"/><text transform="translate(1151.94,1500.53) rotate(-90) scale(0.9507,1)" font-size="28.00">2018</text><line x1="1177.06" y1="1424" x2="1177.06" y2="1434.6" stroke="#231f20" stroke-width="1.3"/><text transform="translate(1185.36,1501.97) rotate(-90) scale(0.9753,1)" font-size="28.00">2019</text><line x1="1210.48" y1="1424" x2="1210.48" y2="1434.6" stroke="#231f20" stroke-width="1.3"/><text transform="translate(1218.78,1507.59) rotate(-90) scale(1.0639,1)" font-size="28.00">2020</text><line x1="1243.90" y1="1424" x2="1243.90" y2="1434.6" stroke="#231f20" stroke-width="1.3"/><text transform="translate(1252.20,1497.16) rotate(-90) scale(0.8975,1)" font-size="28.00">2021</text><line x1="1277.32" y1="1424" x2="1277.32" y2="1434.6" stroke="#231f20" stroke-width="1.3"/><text transform="translate(1285.62,1504.22) rotate(-90) scale(1.0146,1)" font-size="28.00">2022</text><line x1="1310.74" y1="1424" x2="1310.74" y2="1434.6" stroke="#231f20" stroke-width="1.3"/><text transform="translate(1319.04,1504.22) rotate(-90) scale(1.0111,1)" font-size="28.00">2023</text><line x1="1344.16" y1="1424" x2="1344.16" y2="1434.6" stroke="#231f20" stroke-width="1.3"/><text transform="translate(1352.46,1504.82) rotate(-90) scale(1.0140,1)" font-size="28.00">2024</text><g fill="#0872b4"><circle cx="241.30" cy="1387.70" r="9.45"/><circle cx="274.72" cy="1387.70" r="9.45"/><circle cx="308.14" cy="1387.70" r="9.45"/><circle cx="341.56" cy="1387.70" r="9.45"/><circle cx="374.98" cy="1387.70" r="9.45"/><circle cx="408.40" cy="1387.70" r="9.45"/><circle cx="441.82" cy="1384.30" r="9.45"/><circle cx="475.24" cy="1380.80" r="9.45"/><circle cx="508.66" cy="1379.40" r="9.45"/><circle cx="542.08" cy="1377.70" r="9.45"/><circle cx="575.50" cy="1372.60" r="9.45"/><circle cx="608.92" cy="1367.30" r="9.45"/><circle cx="642.34" cy="1360.70" r="9.45"/><circle cx="675.76" cy="1354.10" r="9.45"/><circle cx="709.18" cy="1350.60" r="9.45"/><circle cx="742.60" cy="1349.00" r="9.45"/><circle cx="776.02" cy="1345.90" r="9.45"/><circle cx="809.44" cy="1342.10" r="9.45"/><circle cx="842.86" cy="1337.10" r="9.45"/><circle cx="876.28" cy="1323.30" r="9.45"/><circle cx="909.70" cy="1311.90" r="9.45"/><circle cx="943.12" cy="1282.90" r="9.45"/><circle cx="976.54" cy="1271.30" r="9.45"/><circle cx="1009.96" cy="1238.40" r="9.45"/><circle cx="1043.38" cy="1204.50" r="9.45"/><circle cx="1076.80" cy="1165.50" r="9.45"/><circle cx="1110.22" cy="1128.30" r="9.45"/><circle cx="1143.64" cy="1090.90" r="9.45"/><circle cx="1177.06" cy="1064.00" r="9.45"/><circle cx="1210.48" cy="1001.30" r="9.45"/><circle cx="1243.90" cy="959.60" r="9.45"/><circle cx="1277.32" cy="895.60" r="9.45"/><circle cx="1310.74" cy="807.60" r="9.45"/><circle cx="1344.16" cy="692.40" r="9.45"/></g><line x1="203.1" y1="1388.20" x2="1379" y2="1388.20" stroke="#111" stroke-width="2.1" stroke-linecap="round" stroke-dasharray="0 6.2484"/><text transform="translate(173.65,1396.20) scale(1.1955,1)" font-size="24.00">0</text><line x1="203.1" y1="1298.45" x2="1379" y2="1298.45" stroke="#111" stroke-width="2.1" stroke-linecap="round" stroke-dasharray="0 6.2484"/><text transform="translate(144.45,1306.45) scale(1.1261,1)" font-size="24.00">200</text><line x1="203.1" y1="1208.70" x2="1379" y2="1208.70" stroke="#111" stroke-width="2.1" stroke-linecap="round" stroke-dasharray="0 6.2484"/><text transform="translate(145.20,1216.70) scale(1.1068,1)" font-size="24.00">400</text><line x1="203.1" y1="1118.95" x2="1379" y2="1118.95" stroke="#111" stroke-width="2.1" stroke-linecap="round" stroke-dasharray="0 6.2484"/><text transform="translate(144.45,1126.95) scale(1.1261,1)" font-size="24.00">600</text><line x1="203.1" y1="1029.20" x2="1379" y2="1029.20" stroke="#111" stroke-width="2.1" stroke-linecap="round" stroke-dasharray="0 6.2484"/><text transform="translate(144.66,1037.20) scale(1.1207,1)" font-size="24.00">800</text><line x1="203.1" y1="939.45" x2="1379" y2="939.45" stroke="#111" stroke-width="2.1" stroke-linecap="round" stroke-dasharray="0 6.2484"/><text transform="translate(127.03,947.45) scale(1.0391,1)" font-size="24.00">1,000</text><line x1="203.1" y1="849.70" x2="1379" y2="849.70" stroke="#111" stroke-width="2.1" stroke-linecap="round" stroke-dasharray="0 6.2484"/><text transform="translate(129.09,857.70) scale(1.0042,1)" font-size="24.00">1,200</text><line x1="203.1" y1="759.95" x2="216" y2="759.95" stroke="#111" stroke-width="2.1" stroke-linecap="round" stroke-dasharray="0 6.2484"/><line x1="1084.124" y1="759.95" x2="1379" y2="759.95" stroke="#111" stroke-width="2.1" stroke-linecap="round" stroke-dasharray="0 6.2484"/><text transform="translate(128.58,767.95) scale(1.0129,1)" font-size="24.00">1,400</text><line x1="203.1" y1="670.20" x2="1379" y2="670.20" stroke="#111" stroke-width="2.1" stroke-linecap="round" stroke-dasharray="0 6.2484"/><text transform="translate(129.51,678.20) scale(0.9972,1)" font-size="24.00">1,600</text><line x1="441.8" y1="1388" x2="874" y2="1330" stroke="#f47920" stroke-width="6.2" stroke-linecap="round"/><line x1="908.7" y1="1332" x2="1244.1" y2="980.0" stroke="#469e44" stroke-width="6" stroke-linecap="round" stroke-dasharray="11.2 15.8"/><line x1="1277" y1="899.7" x2="1343" y2="701.3" stroke="#c94446" stroke-width="6.3" stroke-linecap="round" stroke-dasharray="8.3 8.36"/><rect x="217" y="684" width="864" height="132" fill="#fff"/><circle cx="256" cy="706.3" r="9.4" fill="#0872b4"/><line x1="244" y1="736.5" x2="268" y2="736.5" stroke="#f47920" stroke-width="6.6" stroke-linecap="round"/><line x1="242.3" y1="768.4" x2="270" y2="768.4" stroke="#469e44" stroke-width="6.6" stroke-linecap="round" stroke-dasharray="12.3 12.8"/><line x1="238.4" y1="799.4" x2="272" y2="799.4" stroke="#c94446" stroke-width="6.6" stroke-linecap="round" stroke-dasharray="8.1 8.6"/><text transform="translate(286.78,714.70) scale(1.0425,1)" font-size="27.30">Cumulative number of protein designs</text><text transform="translate(286.67,745.77) scale(1.0337,1)" font-size="27.30">Dominance of minimal and rational approaches</text><text transform="translate(286.67,776.84) scale(1.0331,1)" font-size="27.30">Dominance of computational, physics-based approaches</text><text transform="translate(286.67,807.91) scale(1.0344,1)" font-size="27.30">Emergence of computational, deep learning-based approaches</text></svg></body></html>
